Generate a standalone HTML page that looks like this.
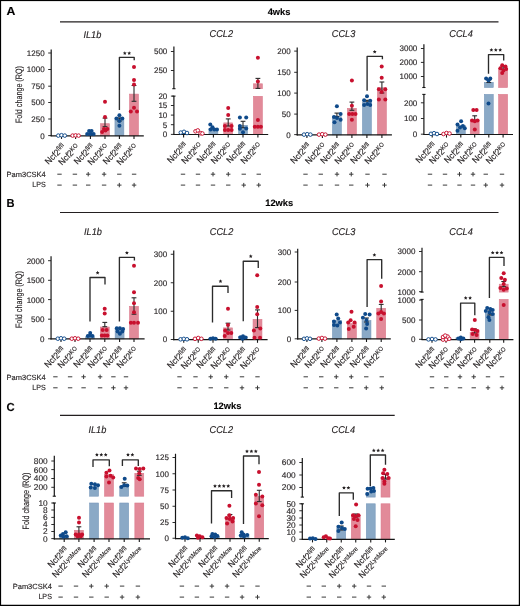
<!DOCTYPE html>
<html><head><meta charset="utf-8"><style>
html,body{margin:0;padding:0;background:#fff;}
svg{display:block;font-family:"Liberation Sans", sans-serif;will-change:transform;text-rendering:geometricPrecision;}
text{stroke:#231f20;stroke-width:0.14px;}
</style></head><body>
<svg width="520" height="606" viewBox="0 0 520 606">
<rect width="520" height="606" fill="#fff"/>
<rect x="0" y="0" width="520" height="1.1" fill="#000"/>
<rect x="0" y="0" width="1.1" height="606" fill="#000"/>
<rect x="518.8" y="0" width="1.2" height="606" fill="#000"/>
<rect x="0" y="604.75" width="520" height="1.25" fill="#000"/>
<text transform="translate(6.6,14.8) scale(1.06,1)" font-size="11.6" font-weight="bold" fill="#000">A</text>
<text transform="translate(6.6,207.4) scale(0.96,1)" font-size="11.6" font-weight="bold" fill="#000">B</text>
<text transform="translate(6.6,410.5) scale(0.97,1)" font-size="11.6" font-weight="bold" fill="#000">C</text>
<line x1="60" y1="21.8" x2="498.5" y2="21.8" stroke="#231f20" stroke-width="1.2"/>
<line x1="60" y1="212.5" x2="498.5" y2="212.5" stroke="#231f20" stroke-width="1.2"/>
<line x1="60" y1="415.3" x2="394.7" y2="415.3" stroke="#231f20" stroke-width="1.2"/>
<text x="279" y="15.2" font-size="9.3" font-weight="bold" text-anchor="middle" fill="#000">4wks</text>
<text x="279.2" y="205.9" font-size="9.3" font-weight="bold" text-anchor="middle" fill="#000">12wks</text>
<text x="227.4" y="409.2" font-size="9.3" font-weight="bold" text-anchor="middle" fill="#000">12wks</text>
<text transform="translate(21.8,94.6) rotate(-90)" font-size="9.3" text-anchor="middle" textLength="57" lengthAdjust="spacingAndGlyphs" fill="#231f20">Fold change (RQ)</text>
<text transform="translate(22.2,299.6) rotate(-90)" font-size="9.3" text-anchor="middle" textLength="57" lengthAdjust="spacingAndGlyphs" fill="#231f20">Fold change (RQ)</text>
<text transform="translate(28.9,501) rotate(-90)" font-size="9.3" text-anchor="middle" textLength="57" lengthAdjust="spacingAndGlyphs" fill="#231f20">Fold change (RQ)</text>
<text x="45.8" y="177.1" font-size="7.5" text-anchor="end" fill="#231f20">Pam3CSK4</text>
<text transform="translate(45.8,186.9) scale(0.94,1)" font-size="7.6" text-anchor="end" fill="#231f20">LPS</text>
<text x="45.8" y="380.0" font-size="7.5" text-anchor="end" fill="#231f20">Pam3CSK4</text>
<text transform="translate(45.8,390.0) scale(0.94,1)" font-size="7.6" text-anchor="end" fill="#231f20">LPS</text>
<text x="51.9" y="589.3" font-size="7.5" text-anchor="end" fill="#231f20">Pam3CSK4</text>
<text transform="translate(51.9,599.2) scale(0.94,1)" font-size="7.6" text-anchor="end" fill="#231f20">LPS</text>
<rect x="85.95" y="133.8" width="8.9" height="2.0000000000000115" fill="#8aa9c6" stroke="#7898bb" stroke-width="0.6"/>
<rect x="100.55" y="123.7" width="8.9" height="12.100000000000005" fill="#e28a99" stroke="#db7a8c" stroke-width="0.6"/>
<rect x="114.95" y="117.8" width="8.9" height="18.00000000000001" fill="#8aa9c6" stroke="#7898bb" stroke-width="0.6"/>
<rect x="129.55" y="94.1" width="8.9" height="41.70000000000002" fill="#e28a99" stroke="#db7a8c" stroke-width="0.6"/>
<line x1="51.2" y1="49.5" x2="51.2" y2="136.3" stroke="#161616" stroke-width="1.2"/>
<line x1="50.7" y1="135.8" x2="143.8" y2="135.8" stroke="#161616" stroke-width="1.2"/>
<line x1="61.5" y1="135.8" x2="61.5" y2="138.9" stroke="#161616" stroke-width="1.1"/>
<line x1="75.6" y1="135.8" x2="75.6" y2="138.9" stroke="#161616" stroke-width="1.1"/>
<line x1="90.4" y1="135.8" x2="90.4" y2="138.9" stroke="#161616" stroke-width="1.1"/>
<line x1="105" y1="135.8" x2="105" y2="138.9" stroke="#161616" stroke-width="1.1"/>
<line x1="119.4" y1="135.8" x2="119.4" y2="138.9" stroke="#161616" stroke-width="1.1"/>
<line x1="134" y1="135.8" x2="134" y2="138.9" stroke="#161616" stroke-width="1.1"/>
<line x1="48.2" y1="53" x2="51.2" y2="53" stroke="#161616" stroke-width="0.9"/>
<text transform="translate(44.6,55.9) scale(1.0,1)" font-size="8.0" text-anchor="end" fill="#231f20">1250</text>
<line x1="48.2" y1="69.5" x2="51.2" y2="69.5" stroke="#161616" stroke-width="0.9"/>
<text transform="translate(44.6,72.4) scale(1.0,1)" font-size="8.0" text-anchor="end" fill="#231f20">1000</text>
<line x1="48.2" y1="86.2" x2="51.2" y2="86.2" stroke="#161616" stroke-width="0.9"/>
<text transform="translate(44.6,89.10000000000001) scale(1.0,1)" font-size="8.0" text-anchor="end" fill="#231f20">750</text>
<line x1="48.2" y1="102.5" x2="51.2" y2="102.5" stroke="#161616" stroke-width="0.9"/>
<text transform="translate(44.6,105.4) scale(1.0,1)" font-size="8.0" text-anchor="end" fill="#231f20">500</text>
<line x1="48.2" y1="119" x2="51.2" y2="119" stroke="#161616" stroke-width="0.9"/>
<text transform="translate(44.6,121.9) scale(1.0,1)" font-size="8.0" text-anchor="end" fill="#231f20">250</text>
<line x1="48.2" y1="135.6" x2="51.2" y2="135.6" stroke="#161616" stroke-width="0.9"/>
<text transform="translate(44.6,138.5) scale(1.0,1)" font-size="8.0" text-anchor="end" fill="#231f20">0</text>
<line x1="105" y1="118.1" x2="105" y2="126.7" stroke="#2a2a2a" stroke-width="1.1"/>
<line x1="102.6" y1="118.1" x2="107.4" y2="118.1" stroke="#2a2a2a" stroke-width="1.1"/>
<line x1="102.6" y1="126.7" x2="107.4" y2="126.7" stroke="#2a2a2a" stroke-width="1.1"/>
<line x1="119.4" y1="118" x2="119.4" y2="121" stroke="#2a2a2a" stroke-width="1.1"/>
<line x1="117.0" y1="118" x2="121.80000000000001" y2="118" stroke="#2a2a2a" stroke-width="1.1"/>
<line x1="117.0" y1="121" x2="121.80000000000001" y2="121" stroke="#2a2a2a" stroke-width="1.1"/>
<line x1="134" y1="85.5" x2="134" y2="101.3" stroke="#2a2a2a" stroke-width="1.1"/>
<line x1="131.6" y1="85.5" x2="136.4" y2="85.5" stroke="#2a2a2a" stroke-width="1.1"/>
<line x1="131.6" y1="101.3" x2="136.4" y2="101.3" stroke="#2a2a2a" stroke-width="1.1"/>
<circle cx="58.3" cy="135.6" r="1.8" fill="#fff" stroke="#0f4a8a" stroke-width="0.95"/>
<circle cx="61.5" cy="135.2" r="1.8" fill="#fff" stroke="#0f4a8a" stroke-width="0.95"/>
<circle cx="64.8" cy="135.6" r="1.8" fill="#fff" stroke="#0f4a8a" stroke-width="0.95"/>
<circle cx="72.6" cy="135.6" r="1.8" fill="#fff" stroke="#c8102e" stroke-width="0.95"/>
<circle cx="75.6" cy="135.4" r="1.8" fill="#fff" stroke="#c8102e" stroke-width="0.95"/>
<circle cx="78.6" cy="135.6" r="1.8" fill="#fff" stroke="#c8102e" stroke-width="0.95"/>
<circle cx="89.1" cy="131.1" r="2.0" fill="#0f4a8a"/>
<circle cx="91.6" cy="131.1" r="2.0" fill="#0f4a8a"/>
<circle cx="87.2" cy="133.9" r="2.0" fill="#0f4a8a"/>
<circle cx="90.5" cy="133.9" r="2.0" fill="#0f4a8a"/>
<circle cx="93.6" cy="133.9" r="2.0" fill="#0f4a8a"/>
<circle cx="105" cy="101.7" r="2.0" fill="#c8102e"/>
<circle cx="105" cy="116.9" r="2.0" fill="#c8102e"/>
<circle cx="104" cy="129.1" r="2.0" fill="#c8102e"/>
<circle cx="107.4" cy="129.1" r="2.0" fill="#c8102e"/>
<circle cx="105.5" cy="130.6" r="2.0" fill="#c8102e"/>
<circle cx="102.1" cy="132" r="2.0" fill="#c8102e"/>
<circle cx="119.4" cy="115.2" r="2.0" fill="#0f4a8a"/>
<circle cx="116.5" cy="118.6" r="2.0" fill="#0f4a8a"/>
<circle cx="122.3" cy="118.6" r="2.0" fill="#0f4a8a"/>
<circle cx="119.4" cy="121" r="2.0" fill="#0f4a8a"/>
<circle cx="119.4" cy="125.8" r="2.0" fill="#0f4a8a"/>
<circle cx="134" cy="66.9" r="2.0" fill="#c8102e"/>
<circle cx="134" cy="80" r="2.0" fill="#c8102e"/>
<circle cx="134" cy="84.6" r="2.0" fill="#c8102e"/>
<circle cx="134" cy="107.7" r="2.0" fill="#c8102e"/>
<circle cx="130.8" cy="111.5" r="2.0" fill="#c8102e"/>
<circle cx="137" cy="111.5" r="2.0" fill="#c8102e"/>
<polyline points="119.4,110 119.4,57.3 134.2,57.3 134.2,60.2" fill="none" stroke="#2b2b2b" stroke-width="1.35" stroke-linejoin="round"/>
<polygon points="124.80,51.20 125.36,52.42 126.70,52.58 125.71,53.50 125.98,54.82 124.80,54.16 123.62,54.82 123.89,53.50 122.90,52.58 124.24,52.42" fill="#231f20"/>
<polygon points="129.20,51.20 129.76,52.42 131.10,52.58 130.11,53.50 130.38,54.82 129.20,54.16 128.02,54.82 128.29,53.50 127.30,52.58 128.64,52.42" fill="#231f20"/>
<text transform="translate(92.4,37.6) scale(0.93,1)" font-size="9.9" font-style="italic" text-anchor="middle" fill="#231f20">IL1b</text>
<text transform="translate(66.0,147.60000000000002) rotate(-45) scale(0.93,1)" font-size="9.0" text-anchor="end" fill="#231f20">Ncf2<tspan font-size="6.3" dy="-2.7">fl/fl</tspan></text>
<text transform="translate(80.1,147.60000000000002) rotate(-45) scale(0.93,1)" font-size="9.0" text-anchor="end" fill="#231f20">Ncf2<tspan font-size="6.3" dy="-2.7">KO</tspan></text>
<text transform="translate(94.9,147.60000000000002) rotate(-45) scale(0.93,1)" font-size="9.0" text-anchor="end" fill="#231f20">Ncf2<tspan font-size="6.3" dy="-2.7">fl/fl</tspan></text>
<text transform="translate(109.5,147.60000000000002) rotate(-45) scale(0.93,1)" font-size="9.0" text-anchor="end" fill="#231f20">Ncf2<tspan font-size="6.3" dy="-2.7">KO</tspan></text>
<text transform="translate(123.9,147.60000000000002) rotate(-45) scale(0.93,1)" font-size="9.0" text-anchor="end" fill="#231f20">Ncf2<tspan font-size="6.3" dy="-2.7">fl/fl</tspan></text>
<text transform="translate(138.5,147.60000000000002) rotate(-45) scale(0.93,1)" font-size="9.0" text-anchor="end" fill="#231f20">Ncf2<tspan font-size="6.3" dy="-2.7">KO</tspan></text>
<line x1="57.3" y1="174.2" x2="61.7" y2="174.2" stroke="#3a3a3a" stroke-width="1"/>
<line x1="57.3" y1="185.1" x2="61.7" y2="185.1" stroke="#3a3a3a" stroke-width="1"/>
<line x1="72.7" y1="174.2" x2="77.10000000000001" y2="174.2" stroke="#3a3a3a" stroke-width="1"/>
<line x1="72.7" y1="185.1" x2="77.10000000000001" y2="185.1" stroke="#3a3a3a" stroke-width="1"/>
<line x1="86.0" y1="174.2" x2="90.4" y2="174.2" stroke="#3a3a3a" stroke-width="1"/>
<line x1="88.2" y1="172.0" x2="88.2" y2="176.39999999999998" stroke="#3a3a3a" stroke-width="1"/>
<line x1="86.0" y1="185.1" x2="90.4" y2="185.1" stroke="#3a3a3a" stroke-width="1"/>
<line x1="101.89999999999999" y1="174.2" x2="106.3" y2="174.2" stroke="#3a3a3a" stroke-width="1"/>
<line x1="104.1" y1="172.0" x2="104.1" y2="176.39999999999998" stroke="#3a3a3a" stroke-width="1"/>
<line x1="101.89999999999999" y1="185.1" x2="106.3" y2="185.1" stroke="#3a3a3a" stroke-width="1"/>
<line x1="117.1" y1="174.2" x2="121.5" y2="174.2" stroke="#3a3a3a" stroke-width="1"/>
<line x1="117.1" y1="185.1" x2="121.5" y2="185.1" stroke="#3a3a3a" stroke-width="1"/>
<line x1="119.3" y1="182.9" x2="119.3" y2="187.29999999999998" stroke="#3a3a3a" stroke-width="1"/>
<line x1="131.9" y1="174.2" x2="136.29999999999998" y2="174.2" stroke="#3a3a3a" stroke-width="1"/>
<line x1="131.9" y1="185.1" x2="136.29999999999998" y2="185.1" stroke="#3a3a3a" stroke-width="1"/>
<line x1="134.1" y1="182.9" x2="134.1" y2="187.29999999999998" stroke="#3a3a3a" stroke-width="1"/>
<rect x="208.95000000000002" y="128.5" width="8.9" height="6.0000000000000115" fill="#8aa9c6" stroke="#7898bb" stroke-width="0.6"/>
<rect x="223.75" y="122.89999999999999" width="8.9" height="11.600000000000005" fill="#e28a99" stroke="#db7a8c" stroke-width="0.6"/>
<rect x="238.55" y="125.3" width="8.9" height="9.2" fill="#8aa9c6" stroke="#7898bb" stroke-width="0.6"/>
<rect x="253.45" y="83.8" width="8.9" height="4.900000000000003" fill="#e28a99" stroke="#db7a8c" stroke-width="0.6"/>
<rect x="253.45" y="96.3" width="8.9" height="38.2" fill="#e28a99" stroke="#db7a8c" stroke-width="0.6"/>
<line x1="173.9" y1="46.6" x2="173.9" y2="88.7" stroke="#161616" stroke-width="1.2"/>
<line x1="173.9" y1="96.1" x2="173.9" y2="135.0" stroke="#161616" stroke-width="1.2"/>
<line x1="172.3" y1="88.7" x2="175.5" y2="88.7" stroke="#161616" stroke-width="1.1"/>
<line x1="172.3" y1="96.1" x2="175.5" y2="96.1" stroke="#161616" stroke-width="1.1"/>
<line x1="173.4" y1="134.5" x2="268.2" y2="134.5" stroke="#161616" stroke-width="1.2"/>
<line x1="183.6" y1="134.5" x2="183.6" y2="137.6" stroke="#161616" stroke-width="1.1"/>
<line x1="198.7" y1="134.5" x2="198.7" y2="137.6" stroke="#161616" stroke-width="1.1"/>
<line x1="213.4" y1="134.5" x2="213.4" y2="137.6" stroke="#161616" stroke-width="1.1"/>
<line x1="228.2" y1="134.5" x2="228.2" y2="137.6" stroke="#161616" stroke-width="1.1"/>
<line x1="243" y1="134.5" x2="243" y2="137.6" stroke="#161616" stroke-width="1.1"/>
<line x1="257.9" y1="134.5" x2="257.9" y2="137.6" stroke="#161616" stroke-width="1.1"/>
<line x1="170.9" y1="51.5" x2="173.9" y2="51.5" stroke="#161616" stroke-width="0.9"/>
<text transform="translate(167.3,54.4) scale(1.0,1)" font-size="8.0" text-anchor="end" fill="#231f20">500</text>
<line x1="170.9" y1="70.5" x2="173.9" y2="70.5" stroke="#161616" stroke-width="0.9"/>
<text transform="translate(167.3,73.4) scale(1.0,1)" font-size="8.0" text-anchor="end" fill="#231f20">250</text>
<line x1="170.9" y1="96.1" x2="173.9" y2="96.1" stroke="#161616" stroke-width="0.9"/>
<text transform="translate(167.3,99.0) scale(1.0,1)" font-size="8.0" text-anchor="end" fill="#231f20">20</text>
<line x1="170.9" y1="105.5" x2="173.9" y2="105.5" stroke="#161616" stroke-width="0.9"/>
<text transform="translate(167.3,108.4) scale(1.0,1)" font-size="8.0" text-anchor="end" fill="#231f20">15</text>
<line x1="170.9" y1="115.1" x2="173.9" y2="115.1" stroke="#161616" stroke-width="0.9"/>
<text transform="translate(167.3,118.0) scale(1.0,1)" font-size="8.0" text-anchor="end" fill="#231f20">10</text>
<line x1="170.9" y1="124.7" x2="173.9" y2="124.7" stroke="#161616" stroke-width="0.9"/>
<text transform="translate(167.3,127.60000000000001) scale(1.0,1)" font-size="8.0" text-anchor="end" fill="#231f20">5</text>
<line x1="170.9" y1="134.4" x2="173.9" y2="134.4" stroke="#161616" stroke-width="0.9"/>
<text transform="translate(167.3,137.3) scale(1.0,1)" font-size="8.0" text-anchor="end" fill="#231f20">0</text>
<line x1="228.2" y1="118.9" x2="228.2" y2="126" stroke="#2a2a2a" stroke-width="1.1"/>
<line x1="225.79999999999998" y1="118.9" x2="230.6" y2="118.9" stroke="#2a2a2a" stroke-width="1.1"/>
<line x1="225.79999999999998" y1="126" x2="230.6" y2="126" stroke="#2a2a2a" stroke-width="1.1"/>
<line x1="243" y1="121.3" x2="243" y2="127.7" stroke="#2a2a2a" stroke-width="1.1"/>
<line x1="240.6" y1="121.3" x2="245.4" y2="121.3" stroke="#2a2a2a" stroke-width="1.1"/>
<line x1="240.6" y1="127.7" x2="245.4" y2="127.7" stroke="#2a2a2a" stroke-width="1.1"/>
<line x1="257.9" y1="78.4" x2="257.9" y2="88.4" stroke="#2a2a2a" stroke-width="1.1"/>
<line x1="255.49999999999997" y1="78.4" x2="260.29999999999995" y2="78.4" stroke="#2a2a2a" stroke-width="1.1"/>
<line x1="255.49999999999997" y1="88.4" x2="260.29999999999995" y2="88.4" stroke="#2a2a2a" stroke-width="1.1"/>
<circle cx="180.8" cy="132.6" r="1.8" fill="#fff" stroke="#0f4a8a" stroke-width="0.95"/>
<circle cx="184" cy="131.8" r="1.8" fill="#fff" stroke="#0f4a8a" stroke-width="0.95"/>
<circle cx="187" cy="133" r="1.8" fill="#fff" stroke="#0f4a8a" stroke-width="0.95"/>
<circle cx="195.5" cy="131.3" r="1.8" fill="#fff" stroke="#c8102e" stroke-width="0.95"/>
<circle cx="197.8" cy="130.4" r="1.8" fill="#fff" stroke="#c8102e" stroke-width="0.95"/>
<circle cx="200.6" cy="133.2" r="1.8" fill="#fff" stroke="#c8102e" stroke-width="0.95"/>
<circle cx="202.4" cy="133.5" r="1.8" fill="#fff" stroke="#c8102e" stroke-width="0.95"/>
<circle cx="210.3" cy="124.4" r="2.0" fill="#0f4a8a"/>
<circle cx="212.5" cy="127.3" r="2.0" fill="#0f4a8a"/>
<circle cx="214.3" cy="129.5" r="2.0" fill="#0f4a8a"/>
<circle cx="217" cy="129.5" r="2.0" fill="#0f4a8a"/>
<circle cx="210.6" cy="129.5" r="2.0" fill="#0f4a8a"/>
<circle cx="228.2" cy="108.1" r="2.0" fill="#c8102e"/>
<circle cx="228.2" cy="114.9" r="2.0" fill="#c8102e"/>
<circle cx="224.9" cy="125.9" r="2.0" fill="#c8102e"/>
<circle cx="231.6" cy="125.9" r="2.0" fill="#c8102e"/>
<circle cx="224.9" cy="130" r="2.0" fill="#c8102e"/>
<circle cx="228.2" cy="130" r="2.0" fill="#c8102e"/>
<circle cx="231.6" cy="130" r="2.0" fill="#c8102e"/>
<circle cx="239.9" cy="117.6" r="2.0" fill="#0f4a8a"/>
<circle cx="246.2" cy="117.6" r="2.0" fill="#0f4a8a"/>
<circle cx="239.9" cy="125.9" r="2.0" fill="#0f4a8a"/>
<circle cx="246.2" cy="128.6" r="2.0" fill="#0f4a8a"/>
<circle cx="243" cy="132.3" r="2.0" fill="#0f4a8a"/>
<circle cx="239.9" cy="128.8" r="2.0" fill="#0f4a8a"/>
<circle cx="257.9" cy="57.7" r="2.0" fill="#c8102e"/>
<circle cx="257.9" cy="81.6" r="2.0" fill="#c8102e"/>
<circle cx="257.9" cy="120" r="2.0" fill="#c8102e"/>
<circle cx="254.8" cy="126.8" r="2.0" fill="#c8102e"/>
<circle cx="257.9" cy="126.8" r="2.0" fill="#c8102e"/>
<circle cx="260.9" cy="126.8" r="2.0" fill="#c8102e"/>
<text transform="translate(221.3,37.3) scale(0.93,1)" font-size="9.9" font-style="italic" text-anchor="middle" fill="#231f20">CCL2</text>
<text transform="translate(188.1,146.3) rotate(-45) scale(0.93,1)" font-size="9.0" text-anchor="end" fill="#231f20">Ncf2<tspan font-size="6.3" dy="-2.7">fl/fl</tspan></text>
<text transform="translate(203.2,146.3) rotate(-45) scale(0.93,1)" font-size="9.0" text-anchor="end" fill="#231f20">Ncf2<tspan font-size="6.3" dy="-2.7">KO</tspan></text>
<text transform="translate(217.9,146.3) rotate(-45) scale(0.93,1)" font-size="9.0" text-anchor="end" fill="#231f20">Ncf2<tspan font-size="6.3" dy="-2.7">fl/fl</tspan></text>
<text transform="translate(232.7,146.3) rotate(-45) scale(0.93,1)" font-size="9.0" text-anchor="end" fill="#231f20">Ncf2<tspan font-size="6.3" dy="-2.7">KO</tspan></text>
<text transform="translate(247.5,146.3) rotate(-45) scale(0.93,1)" font-size="9.0" text-anchor="end" fill="#231f20">Ncf2<tspan font-size="6.3" dy="-2.7">fl/fl</tspan></text>
<text transform="translate(262.4,146.3) rotate(-45) scale(0.93,1)" font-size="9.0" text-anchor="end" fill="#231f20">Ncf2<tspan font-size="6.3" dy="-2.7">KO</tspan></text>
<line x1="180.8" y1="174.2" x2="185.2" y2="174.2" stroke="#3a3a3a" stroke-width="1"/>
<line x1="180.8" y1="185.1" x2="185.2" y2="185.1" stroke="#3a3a3a" stroke-width="1"/>
<line x1="195.8" y1="174.2" x2="200.2" y2="174.2" stroke="#3a3a3a" stroke-width="1"/>
<line x1="195.8" y1="185.1" x2="200.2" y2="185.1" stroke="#3a3a3a" stroke-width="1"/>
<line x1="210.8" y1="174.2" x2="215.2" y2="174.2" stroke="#3a3a3a" stroke-width="1"/>
<line x1="213" y1="172.0" x2="213" y2="176.39999999999998" stroke="#3a3a3a" stroke-width="1"/>
<line x1="210.8" y1="185.1" x2="215.2" y2="185.1" stroke="#3a3a3a" stroke-width="1"/>
<line x1="226.05" y1="174.2" x2="230.45" y2="174.2" stroke="#3a3a3a" stroke-width="1"/>
<line x1="228.25" y1="172.0" x2="228.25" y2="176.39999999999998" stroke="#3a3a3a" stroke-width="1"/>
<line x1="226.05" y1="185.1" x2="230.45" y2="185.1" stroke="#3a3a3a" stroke-width="1"/>
<line x1="241.55" y1="174.2" x2="245.95" y2="174.2" stroke="#3a3a3a" stroke-width="1"/>
<line x1="241.55" y1="185.1" x2="245.95" y2="185.1" stroke="#3a3a3a" stroke-width="1"/>
<line x1="243.75" y1="182.9" x2="243.75" y2="187.29999999999998" stroke="#3a3a3a" stroke-width="1"/>
<line x1="256.55" y1="174.2" x2="260.95" y2="174.2" stroke="#3a3a3a" stroke-width="1"/>
<line x1="256.55" y1="185.1" x2="260.95" y2="185.1" stroke="#3a3a3a" stroke-width="1"/>
<line x1="258.75" y1="182.9" x2="258.75" y2="187.29999999999998" stroke="#3a3a3a" stroke-width="1"/>
<rect x="332.45" y="116.7" width="8.9" height="18.2" fill="#8aa9c6" stroke="#7898bb" stroke-width="0.6"/>
<rect x="347.45" y="108.3" width="8.9" height="26.600000000000005" fill="#e28a99" stroke="#db7a8c" stroke-width="0.6"/>
<rect x="362.45" y="102.0" width="8.9" height="32.900000000000006" fill="#8aa9c6" stroke="#7898bb" stroke-width="0.6"/>
<rect x="377.45" y="87.8" width="8.9" height="47.10000000000001" fill="#e28a99" stroke="#db7a8c" stroke-width="0.6"/>
<line x1="297.2" y1="47.4" x2="297.2" y2="135.4" stroke="#161616" stroke-width="1.2"/>
<line x1="296.7" y1="134.9" x2="391.9" y2="134.9" stroke="#161616" stroke-width="1.2"/>
<line x1="306.9" y1="134.9" x2="306.9" y2="138.0" stroke="#161616" stroke-width="1.1"/>
<line x1="322.4" y1="134.9" x2="322.4" y2="138.0" stroke="#161616" stroke-width="1.1"/>
<line x1="336.9" y1="134.9" x2="336.9" y2="138.0" stroke="#161616" stroke-width="1.1"/>
<line x1="351.9" y1="134.9" x2="351.9" y2="138.0" stroke="#161616" stroke-width="1.1"/>
<line x1="366.9" y1="134.9" x2="366.9" y2="138.0" stroke="#161616" stroke-width="1.1"/>
<line x1="381.9" y1="134.9" x2="381.9" y2="138.0" stroke="#161616" stroke-width="1.1"/>
<line x1="294.2" y1="51.1" x2="297.2" y2="51.1" stroke="#161616" stroke-width="0.9"/>
<text transform="translate(290.59999999999997,54.0) scale(1.0,1)" font-size="8.0" text-anchor="end" fill="#231f20">200</text>
<line x1="294.2" y1="72.3" x2="297.2" y2="72.3" stroke="#161616" stroke-width="0.9"/>
<text transform="translate(290.59999999999997,75.2) scale(1.0,1)" font-size="8.0" text-anchor="end" fill="#231f20">150</text>
<line x1="294.2" y1="93.1" x2="297.2" y2="93.1" stroke="#161616" stroke-width="0.9"/>
<text transform="translate(290.59999999999997,96.0) scale(1.0,1)" font-size="8.0" text-anchor="end" fill="#231f20">100</text>
<line x1="294.2" y1="114.1" x2="297.2" y2="114.1" stroke="#161616" stroke-width="0.9"/>
<text transform="translate(290.59999999999997,117.0) scale(1.0,1)" font-size="8.0" text-anchor="end" fill="#231f20">50</text>
<line x1="294.2" y1="134.6" x2="297.2" y2="134.6" stroke="#161616" stroke-width="0.9"/>
<text transform="translate(290.59999999999997,137.5) scale(1.0,1)" font-size="8.0" text-anchor="end" fill="#231f20">0</text>
<line x1="336.9" y1="113.1" x2="336.9" y2="116.4" stroke="#2a2a2a" stroke-width="1.1"/>
<line x1="334.5" y1="113.1" x2="339.29999999999995" y2="113.1" stroke="#2a2a2a" stroke-width="1.1"/>
<line x1="334.5" y1="116.4" x2="339.29999999999995" y2="116.4" stroke="#2a2a2a" stroke-width="1.1"/>
<line x1="351.9" y1="102.1" x2="351.9" y2="110.3" stroke="#2a2a2a" stroke-width="1.1"/>
<line x1="349.5" y1="102.1" x2="354.29999999999995" y2="102.1" stroke="#2a2a2a" stroke-width="1.1"/>
<line x1="349.5" y1="110.3" x2="354.29999999999995" y2="110.3" stroke="#2a2a2a" stroke-width="1.1"/>
<line x1="366.9" y1="100.3" x2="366.9" y2="101.2" stroke="#2a2a2a" stroke-width="1.1"/>
<line x1="364.5" y1="100.3" x2="369.29999999999995" y2="100.3" stroke="#2a2a2a" stroke-width="1.1"/>
<line x1="364.5" y1="101.2" x2="369.29999999999995" y2="101.2" stroke="#2a2a2a" stroke-width="1.1"/>
<line x1="381.9" y1="82" x2="381.9" y2="93" stroke="#2a2a2a" stroke-width="1.1"/>
<line x1="379.5" y1="82" x2="384.29999999999995" y2="82" stroke="#2a2a2a" stroke-width="1.1"/>
<line x1="379.5" y1="93" x2="384.29999999999995" y2="93" stroke="#2a2a2a" stroke-width="1.1"/>
<circle cx="304" cy="134.6" r="1.8" fill="#fff" stroke="#0f4a8a" stroke-width="0.95"/>
<circle cx="307.2" cy="134.2" r="1.8" fill="#fff" stroke="#0f4a8a" stroke-width="0.95"/>
<circle cx="310.4" cy="134.6" r="1.8" fill="#fff" stroke="#0f4a8a" stroke-width="0.95"/>
<circle cx="319" cy="134.6" r="1.8" fill="#fff" stroke="#c8102e" stroke-width="0.95"/>
<circle cx="322.2" cy="134.2" r="1.8" fill="#fff" stroke="#c8102e" stroke-width="0.95"/>
<circle cx="325.4" cy="134.6" r="1.8" fill="#fff" stroke="#c8102e" stroke-width="0.95"/>
<circle cx="336.9" cy="106.3" r="2.0" fill="#0f4a8a"/>
<circle cx="340.6" cy="114" r="2.0" fill="#0f4a8a"/>
<circle cx="334" cy="117" r="2.0" fill="#0f4a8a"/>
<circle cx="337" cy="118" r="2.0" fill="#0f4a8a"/>
<circle cx="340.6" cy="119.8" r="2.0" fill="#0f4a8a"/>
<circle cx="334.5" cy="122.2" r="2.0" fill="#0f4a8a"/>
<circle cx="351.9" cy="80.6" r="2.0" fill="#c8102e"/>
<circle cx="351.9" cy="105.8" r="2.0" fill="#c8102e"/>
<circle cx="349.2" cy="114" r="2.0" fill="#c8102e"/>
<circle cx="352.4" cy="114" r="2.0" fill="#c8102e"/>
<circle cx="355.5" cy="114" r="2.0" fill="#c8102e"/>
<circle cx="351.9" cy="119.8" r="2.0" fill="#c8102e"/>
<circle cx="367" cy="96.3" r="2.0" fill="#0f4a8a"/>
<circle cx="364.1" cy="100.3" r="2.0" fill="#0f4a8a"/>
<circle cx="370.2" cy="100.8" r="2.0" fill="#0f4a8a"/>
<circle cx="364.1" cy="104.9" r="2.0" fill="#0f4a8a"/>
<circle cx="367.4" cy="104" r="2.0" fill="#0f4a8a"/>
<circle cx="370.2" cy="104.9" r="2.0" fill="#0f4a8a"/>
<circle cx="381.7" cy="66.5" r="2.0" fill="#c8102e"/>
<circle cx="381.7" cy="77.8" r="2.0" fill="#c8102e"/>
<circle cx="378.9" cy="89.3" r="2.0" fill="#c8102e"/>
<circle cx="385.3" cy="89.3" r="2.0" fill="#c8102e"/>
<circle cx="381.7" cy="92" r="2.0" fill="#c8102e"/>
<circle cx="378.9" cy="99.4" r="2.0" fill="#c8102e"/>
<circle cx="385.3" cy="99.4" r="2.0" fill="#c8102e"/>
<polyline points="367.1,90.8 367.1,56.4 382.4,56.4 382.4,59.2" fill="none" stroke="#2b2b2b" stroke-width="1.35" stroke-linejoin="round"/>
<polygon points="374.70,49.90 375.26,51.12 376.60,51.28 375.61,52.20 375.88,53.52 374.70,52.86 373.52,53.52 373.79,52.20 372.80,51.28 374.14,51.12" fill="#231f20"/>
<text transform="translate(343.5,37.3) scale(0.93,1)" font-size="9.9" font-style="italic" text-anchor="middle" fill="#231f20">CCL3</text>
<text transform="translate(311.4,146.70000000000002) rotate(-45) scale(0.93,1)" font-size="9.0" text-anchor="end" fill="#231f20">Ncf2<tspan font-size="6.3" dy="-2.7">fl/fl</tspan></text>
<text transform="translate(326.9,146.70000000000002) rotate(-45) scale(0.93,1)" font-size="9.0" text-anchor="end" fill="#231f20">Ncf2<tspan font-size="6.3" dy="-2.7">KO</tspan></text>
<text transform="translate(341.4,146.70000000000002) rotate(-45) scale(0.93,1)" font-size="9.0" text-anchor="end" fill="#231f20">Ncf2<tspan font-size="6.3" dy="-2.7">fl/fl</tspan></text>
<text transform="translate(356.4,146.70000000000002) rotate(-45) scale(0.93,1)" font-size="9.0" text-anchor="end" fill="#231f20">Ncf2<tspan font-size="6.3" dy="-2.7">KO</tspan></text>
<text transform="translate(371.4,146.70000000000002) rotate(-45) scale(0.93,1)" font-size="9.0" text-anchor="end" fill="#231f20">Ncf2<tspan font-size="6.3" dy="-2.7">fl/fl</tspan></text>
<text transform="translate(386.4,146.70000000000002) rotate(-45) scale(0.93,1)" font-size="9.0" text-anchor="end" fill="#231f20">Ncf2<tspan font-size="6.3" dy="-2.7">KO</tspan></text>
<line x1="303.3" y1="174.2" x2="307.7" y2="174.2" stroke="#3a3a3a" stroke-width="1"/>
<line x1="303.3" y1="185.1" x2="307.7" y2="185.1" stroke="#3a3a3a" stroke-width="1"/>
<line x1="318.55" y1="174.2" x2="322.95" y2="174.2" stroke="#3a3a3a" stroke-width="1"/>
<line x1="318.55" y1="185.1" x2="322.95" y2="185.1" stroke="#3a3a3a" stroke-width="1"/>
<line x1="334.8" y1="174.2" x2="339.2" y2="174.2" stroke="#3a3a3a" stroke-width="1"/>
<line x1="337" y1="172.0" x2="337" y2="176.39999999999998" stroke="#3a3a3a" stroke-width="1"/>
<line x1="334.8" y1="185.1" x2="339.2" y2="185.1" stroke="#3a3a3a" stroke-width="1"/>
<line x1="349.05" y1="174.2" x2="353.45" y2="174.2" stroke="#3a3a3a" stroke-width="1"/>
<line x1="351.25" y1="172.0" x2="351.25" y2="176.39999999999998" stroke="#3a3a3a" stroke-width="1"/>
<line x1="349.05" y1="185.1" x2="353.45" y2="185.1" stroke="#3a3a3a" stroke-width="1"/>
<line x1="365.3" y1="174.2" x2="369.7" y2="174.2" stroke="#3a3a3a" stroke-width="1"/>
<line x1="365.3" y1="185.1" x2="369.7" y2="185.1" stroke="#3a3a3a" stroke-width="1"/>
<line x1="367.5" y1="182.9" x2="367.5" y2="187.29999999999998" stroke="#3a3a3a" stroke-width="1"/>
<line x1="382.3" y1="174.2" x2="386.7" y2="174.2" stroke="#3a3a3a" stroke-width="1"/>
<line x1="382.3" y1="185.1" x2="386.7" y2="185.1" stroke="#3a3a3a" stroke-width="1"/>
<line x1="384.5" y1="182.9" x2="384.5" y2="187.29999999999998" stroke="#3a3a3a" stroke-width="1"/>
<rect x="456.35" y="125.3" width="8.9" height="9.2" fill="#8aa9c6" stroke="#7898bb" stroke-width="0.6"/>
<rect x="470.25" y="119.8" width="8.9" height="14.7" fill="#e28a99" stroke="#db7a8c" stroke-width="0.6"/>
<rect x="484.35" y="82.3" width="8.9" height="5.2" fill="#8aa9c6" stroke="#7898bb" stroke-width="0.6"/>
<rect x="484.35" y="94.4" width="8.9" height="40.099999999999994" fill="#8aa9c6" stroke="#7898bb" stroke-width="0.6"/>
<rect x="498.65000000000003" y="68.6" width="8.9" height="18.900000000000002" fill="#e28a99" stroke="#db7a8c" stroke-width="0.6"/>
<rect x="498.65000000000003" y="94.4" width="8.9" height="40.099999999999994" fill="#e28a99" stroke="#db7a8c" stroke-width="0.6"/>
<line x1="423.9" y1="44.2" x2="423.9" y2="87.5" stroke="#161616" stroke-width="1.2"/>
<line x1="423.9" y1="94.4" x2="423.9" y2="135.0" stroke="#161616" stroke-width="1.2"/>
<line x1="422.29999999999995" y1="87.5" x2="425.5" y2="87.5" stroke="#161616" stroke-width="1.1"/>
<line x1="422.29999999999995" y1="94.4" x2="425.5" y2="94.4" stroke="#161616" stroke-width="1.1"/>
<line x1="423.4" y1="134.5" x2="513" y2="134.5" stroke="#161616" stroke-width="1.2"/>
<line x1="432.2" y1="134.5" x2="432.2" y2="137.6" stroke="#161616" stroke-width="1.1"/>
<line x1="446.5" y1="134.5" x2="446.5" y2="137.6" stroke="#161616" stroke-width="1.1"/>
<line x1="460.8" y1="134.5" x2="460.8" y2="137.6" stroke="#161616" stroke-width="1.1"/>
<line x1="474.7" y1="134.5" x2="474.7" y2="137.6" stroke="#161616" stroke-width="1.1"/>
<line x1="488.8" y1="134.5" x2="488.8" y2="137.6" stroke="#161616" stroke-width="1.1"/>
<line x1="503.1" y1="134.5" x2="503.1" y2="137.6" stroke="#161616" stroke-width="1.1"/>
<line x1="420.9" y1="48.5" x2="423.9" y2="48.5" stroke="#161616" stroke-width="0.9"/>
<text transform="translate(417.29999999999995,51.4) scale(1.0,1)" font-size="8.0" text-anchor="end" fill="#231f20">3000</text>
<line x1="420.9" y1="62.4" x2="423.9" y2="62.4" stroke="#161616" stroke-width="0.9"/>
<text transform="translate(417.29999999999995,65.3) scale(1.0,1)" font-size="8.0" text-anchor="end" fill="#231f20">2000</text>
<line x1="420.9" y1="76.5" x2="423.9" y2="76.5" stroke="#161616" stroke-width="0.9"/>
<text transform="translate(417.29999999999995,79.4) scale(1.0,1)" font-size="8.0" text-anchor="end" fill="#231f20">1000</text>
<line x1="420.9" y1="102.8" x2="423.9" y2="102.8" stroke="#161616" stroke-width="0.9"/>
<text transform="translate(417.29999999999995,105.7) scale(1.0,1)" font-size="8.0" text-anchor="end" fill="#231f20">200</text>
<line x1="420.9" y1="118.5" x2="423.9" y2="118.5" stroke="#161616" stroke-width="0.9"/>
<text transform="translate(417.29999999999995,121.4) scale(1.0,1)" font-size="8.0" text-anchor="end" fill="#231f20">100</text>
<line x1="420.9" y1="134.2" x2="423.9" y2="134.2" stroke="#161616" stroke-width="0.9"/>
<text transform="translate(417.29999999999995,137.1) scale(1.0,1)" font-size="8.0" text-anchor="end" fill="#231f20">0</text>
<line x1="474.7" y1="115.8" x2="474.7" y2="120.4" stroke="#2a2a2a" stroke-width="1.1"/>
<line x1="472.3" y1="115.8" x2="477.09999999999997" y2="115.8" stroke="#2a2a2a" stroke-width="1.1"/>
<line x1="472.3" y1="120.4" x2="477.09999999999997" y2="120.4" stroke="#2a2a2a" stroke-width="1.1"/>
<line x1="488.8" y1="80" x2="488.8" y2="82.5" stroke="#2a2a2a" stroke-width="1.1"/>
<line x1="486.40000000000003" y1="80" x2="491.2" y2="80" stroke="#2a2a2a" stroke-width="1.1"/>
<line x1="486.40000000000003" y1="82.5" x2="491.2" y2="82.5" stroke="#2a2a2a" stroke-width="1.1"/>
<line x1="503.1" y1="66.8" x2="503.1" y2="69.5" stroke="#2a2a2a" stroke-width="1.1"/>
<line x1="500.70000000000005" y1="66.8" x2="505.5" y2="66.8" stroke="#2a2a2a" stroke-width="1.1"/>
<line x1="500.70000000000005" y1="69.5" x2="505.5" y2="69.5" stroke="#2a2a2a" stroke-width="1.1"/>
<circle cx="431" cy="133.8" r="1.8" fill="#fff" stroke="#0f4a8a" stroke-width="0.95"/>
<circle cx="434" cy="133.2" r="1.8" fill="#fff" stroke="#0f4a8a" stroke-width="0.95"/>
<circle cx="437" cy="134" r="1.8" fill="#fff" stroke="#0f4a8a" stroke-width="0.95"/>
<circle cx="443.5" cy="134" r="1.8" fill="#fff" stroke="#c8102e" stroke-width="0.95"/>
<circle cx="446.5" cy="133" r="1.8" fill="#fff" stroke="#c8102e" stroke-width="0.95"/>
<circle cx="449.5" cy="133.5" r="1.8" fill="#fff" stroke="#c8102e" stroke-width="0.95"/>
<circle cx="461.1" cy="121.3" r="2.0" fill="#0f4a8a"/>
<circle cx="457.5" cy="124.4" r="2.0" fill="#0f4a8a"/>
<circle cx="462.9" cy="125.9" r="2.0" fill="#0f4a8a"/>
<circle cx="464.8" cy="128.2" r="2.0" fill="#0f4a8a"/>
<circle cx="457.5" cy="130.8" r="2.0" fill="#0f4a8a"/>
<circle cx="460" cy="127.5" r="2.0" fill="#0f4a8a"/>
<circle cx="473.3" cy="110" r="2.0" fill="#c8102e"/>
<circle cx="476.6" cy="110" r="2.0" fill="#c8102e"/>
<circle cx="472.1" cy="120.4" r="2.0" fill="#c8102e"/>
<circle cx="474.8" cy="121.3" r="2.0" fill="#c8102e"/>
<circle cx="477.5" cy="120.4" r="2.0" fill="#c8102e"/>
<circle cx="474.8" cy="129.5" r="2.0" fill="#c8102e"/>
<circle cx="486.1" cy="78.4" r="2.0" fill="#0f4a8a"/>
<circle cx="490.3" cy="78.4" r="2.0" fill="#0f4a8a"/>
<circle cx="488.5" cy="80.6" r="2.0" fill="#0f4a8a"/>
<circle cx="488.5" cy="103.6" r="2.0" fill="#0f4a8a"/>
<circle cx="502.2" cy="65.2" r="2.0" fill="#c8102e"/>
<circle cx="505.5" cy="66.5" r="2.0" fill="#c8102e"/>
<circle cx="500.4" cy="68.3" r="2.0" fill="#c8102e"/>
<circle cx="506.2" cy="68.9" r="2.0" fill="#c8102e"/>
<circle cx="502.2" cy="72.9" r="2.0" fill="#c8102e"/>
<circle cx="503.5" cy="70.5" r="2.0" fill="#c8102e"/>
<polyline points="488.5,73.8 488.5,54.6 503.7,54.6 503.7,60.5" fill="none" stroke="#2b2b2b" stroke-width="1.35" stroke-linejoin="round"/>
<polygon points="491.40,48.00 491.96,49.22 493.30,49.38 492.31,50.30 492.58,51.62 491.40,50.96 490.22,51.62 490.49,50.30 489.50,49.38 490.84,49.22" fill="#231f20"/>
<polygon points="495.80,48.00 496.36,49.22 497.70,49.38 496.71,50.30 496.98,51.62 495.80,50.96 494.62,51.62 494.89,50.30 493.90,49.38 495.24,49.22" fill="#231f20"/>
<polygon points="500.20,48.00 500.76,49.22 502.10,49.38 501.11,50.30 501.38,51.62 500.20,50.96 499.02,51.62 499.29,50.30 498.30,49.38 499.64,49.22" fill="#231f20"/>
<text transform="translate(461,37.3) scale(0.93,1)" font-size="9.9" font-style="italic" text-anchor="middle" fill="#231f20">CCL4</text>
<text transform="translate(436.7,146.3) rotate(-45) scale(0.93,1)" font-size="9.0" text-anchor="end" fill="#231f20">Ncf2<tspan font-size="6.3" dy="-2.7">fl/fl</tspan></text>
<text transform="translate(451.0,146.3) rotate(-45) scale(0.93,1)" font-size="9.0" text-anchor="end" fill="#231f20">Ncf2<tspan font-size="6.3" dy="-2.7">KO</tspan></text>
<text transform="translate(465.3,146.3) rotate(-45) scale(0.93,1)" font-size="9.0" text-anchor="end" fill="#231f20">Ncf2<tspan font-size="6.3" dy="-2.7">fl/fl</tspan></text>
<text transform="translate(479.2,146.3) rotate(-45) scale(0.93,1)" font-size="9.0" text-anchor="end" fill="#231f20">Ncf2<tspan font-size="6.3" dy="-2.7">KO</tspan></text>
<text transform="translate(493.3,146.3) rotate(-45) scale(0.93,1)" font-size="9.0" text-anchor="end" fill="#231f20">Ncf2<tspan font-size="6.3" dy="-2.7">fl/fl</tspan></text>
<text transform="translate(507.6,146.3) rotate(-45) scale(0.93,1)" font-size="9.0" text-anchor="end" fill="#231f20">Ncf2<tspan font-size="6.3" dy="-2.7">KO</tspan></text>
<line x1="427.8" y1="174.2" x2="432.2" y2="174.2" stroke="#3a3a3a" stroke-width="1"/>
<line x1="427.8" y1="185.1" x2="432.2" y2="185.1" stroke="#3a3a3a" stroke-width="1"/>
<line x1="442.8" y1="174.2" x2="447.2" y2="174.2" stroke="#3a3a3a" stroke-width="1"/>
<line x1="442.8" y1="185.1" x2="447.2" y2="185.1" stroke="#3a3a3a" stroke-width="1"/>
<line x1="457.3" y1="174.2" x2="461.7" y2="174.2" stroke="#3a3a3a" stroke-width="1"/>
<line x1="459.5" y1="172.0" x2="459.5" y2="176.39999999999998" stroke="#3a3a3a" stroke-width="1"/>
<line x1="457.3" y1="185.1" x2="461.7" y2="185.1" stroke="#3a3a3a" stroke-width="1"/>
<line x1="470.8" y1="174.2" x2="475.2" y2="174.2" stroke="#3a3a3a" stroke-width="1"/>
<line x1="473" y1="172.0" x2="473" y2="176.39999999999998" stroke="#3a3a3a" stroke-width="1"/>
<line x1="470.8" y1="185.1" x2="475.2" y2="185.1" stroke="#3a3a3a" stroke-width="1"/>
<line x1="483.55" y1="174.2" x2="487.95" y2="174.2" stroke="#3a3a3a" stroke-width="1"/>
<line x1="483.55" y1="185.1" x2="487.95" y2="185.1" stroke="#3a3a3a" stroke-width="1"/>
<line x1="485.75" y1="182.9" x2="485.75" y2="187.29999999999998" stroke="#3a3a3a" stroke-width="1"/>
<line x1="499.8" y1="174.2" x2="504.2" y2="174.2" stroke="#3a3a3a" stroke-width="1"/>
<line x1="499.8" y1="185.1" x2="504.2" y2="185.1" stroke="#3a3a3a" stroke-width="1"/>
<line x1="502" y1="182.9" x2="502" y2="187.29999999999998" stroke="#3a3a3a" stroke-width="1"/>
<rect x="85.55" y="336.8" width="8.9" height="2.0999999999999774" fill="#8aa9c6" stroke="#7898bb" stroke-width="0.6"/>
<rect x="100.35" y="327.0" width="8.9" height="11.899999999999988" fill="#e28a99" stroke="#db7a8c" stroke-width="0.6"/>
<rect x="115.14999999999999" y="329.1" width="8.9" height="9.799999999999965" fill="#8aa9c6" stroke="#7898bb" stroke-width="0.6"/>
<rect x="129.55" y="306.40000000000003" width="8.9" height="32.49999999999996" fill="#e28a99" stroke="#db7a8c" stroke-width="0.6"/>
<line x1="51.05" y1="256.3" x2="51.05" y2="339.4" stroke="#161616" stroke-width="1.2"/>
<line x1="50.55" y1="338.9" x2="144.6" y2="338.9" stroke="#161616" stroke-width="1.2"/>
<line x1="61" y1="338.9" x2="61" y2="342.0" stroke="#161616" stroke-width="1.1"/>
<line x1="75" y1="338.9" x2="75" y2="342.0" stroke="#161616" stroke-width="1.1"/>
<line x1="90" y1="338.9" x2="90" y2="342.0" stroke="#161616" stroke-width="1.1"/>
<line x1="104.8" y1="338.9" x2="104.8" y2="342.0" stroke="#161616" stroke-width="1.1"/>
<line x1="119.6" y1="338.9" x2="119.6" y2="342.0" stroke="#161616" stroke-width="1.1"/>
<line x1="134" y1="338.9" x2="134" y2="342.0" stroke="#161616" stroke-width="1.1"/>
<line x1="48.05" y1="260.7" x2="51.05" y2="260.7" stroke="#161616" stroke-width="0.9"/>
<text transform="translate(44.449999999999996,263.59999999999997) scale(1.0,1)" font-size="8.0" text-anchor="end" fill="#231f20">2000</text>
<line x1="48.05" y1="280.3" x2="51.05" y2="280.3" stroke="#161616" stroke-width="0.9"/>
<text transform="translate(44.449999999999996,283.2) scale(1.0,1)" font-size="8.0" text-anchor="end" fill="#231f20">1500</text>
<line x1="48.05" y1="299.6" x2="51.05" y2="299.6" stroke="#161616" stroke-width="0.9"/>
<text transform="translate(44.449999999999996,302.5) scale(1.0,1)" font-size="8.0" text-anchor="end" fill="#231f20">1000</text>
<line x1="48.05" y1="319.2" x2="51.05" y2="319.2" stroke="#161616" stroke-width="0.9"/>
<text transform="translate(44.449999999999996,322.09999999999997) scale(1.0,1)" font-size="8.0" text-anchor="end" fill="#231f20">500</text>
<line x1="48.05" y1="338.8" x2="51.05" y2="338.8" stroke="#161616" stroke-width="0.9"/>
<text transform="translate(44.449999999999996,341.7) scale(1.0,1)" font-size="8.0" text-anchor="end" fill="#231f20">0</text>
<line x1="104.8" y1="322.4" x2="104.8" y2="326.7" stroke="#2a2a2a" stroke-width="1.1"/>
<line x1="102.39999999999999" y1="322.4" x2="107.2" y2="322.4" stroke="#2a2a2a" stroke-width="1.1"/>
<line x1="102.39999999999999" y1="326.7" x2="107.2" y2="326.7" stroke="#2a2a2a" stroke-width="1.1"/>
<line x1="134" y1="297.8" x2="134" y2="314.2" stroke="#2a2a2a" stroke-width="1.1"/>
<line x1="131.6" y1="297.8" x2="136.4" y2="297.8" stroke="#2a2a2a" stroke-width="1.1"/>
<line x1="131.6" y1="314.2" x2="136.4" y2="314.2" stroke="#2a2a2a" stroke-width="1.1"/>
<circle cx="57.8" cy="338.7" r="1.8" fill="#fff" stroke="#0f4a8a" stroke-width="0.95"/>
<circle cx="61" cy="338.3" r="1.8" fill="#fff" stroke="#0f4a8a" stroke-width="0.95"/>
<circle cx="64.2" cy="338.7" r="1.8" fill="#fff" stroke="#0f4a8a" stroke-width="0.95"/>
<circle cx="71.8" cy="338.7" r="1.8" fill="#fff" stroke="#c8102e" stroke-width="0.95"/>
<circle cx="75" cy="338.3" r="1.8" fill="#fff" stroke="#c8102e" stroke-width="0.95"/>
<circle cx="78.2" cy="338.7" r="1.8" fill="#fff" stroke="#c8102e" stroke-width="0.95"/>
<circle cx="90.2" cy="333" r="2.0" fill="#0f4a8a"/>
<circle cx="87.8" cy="336.1" r="2.0" fill="#0f4a8a"/>
<circle cx="92.5" cy="336.1" r="2.0" fill="#0f4a8a"/>
<circle cx="90" cy="335.5" r="2.0" fill="#0f4a8a"/>
<circle cx="104.7" cy="308.7" r="2.0" fill="#c8102e"/>
<circle cx="104.7" cy="313.4" r="2.0" fill="#c8102e"/>
<circle cx="102.7" cy="329.9" r="2.0" fill="#c8102e"/>
<circle cx="106.6" cy="329.9" r="2.0" fill="#c8102e"/>
<circle cx="101.9" cy="335.4" r="2.0" fill="#c8102e"/>
<circle cx="104.7" cy="335.4" r="2.0" fill="#c8102e"/>
<circle cx="107.4" cy="335.4" r="2.0" fill="#c8102e"/>
<circle cx="116.8" cy="328.3" r="2.0" fill="#0f4a8a"/>
<circle cx="119.9" cy="328.3" r="2.0" fill="#0f4a8a"/>
<circle cx="123.1" cy="329.1" r="2.0" fill="#0f4a8a"/>
<circle cx="117.6" cy="331.4" r="2.0" fill="#0f4a8a"/>
<circle cx="122.3" cy="331.4" r="2.0" fill="#0f4a8a"/>
<circle cx="119.9" cy="333.8" r="2.0" fill="#0f4a8a"/>
<circle cx="134" cy="265.7" r="2.0" fill="#c8102e"/>
<circle cx="134" cy="292.3" r="2.0" fill="#c8102e"/>
<circle cx="134" cy="303.2" r="2.0" fill="#c8102e"/>
<circle cx="134" cy="312.3" r="2.0" fill="#c8102e"/>
<circle cx="130.9" cy="322.8" r="2.0" fill="#c8102e"/>
<circle cx="134" cy="322.8" r="2.0" fill="#c8102e"/>
<circle cx="138" cy="322.8" r="2.0" fill="#c8102e"/>
<polyline points="90,321.5 90,277.5 105,277.5 105,284.6" fill="none" stroke="#2b2b2b" stroke-width="1.35" stroke-linejoin="round"/>
<polygon points="97.60,270.80 98.16,272.02 99.50,272.18 98.51,273.10 98.78,274.42 97.60,273.76 96.42,274.42 96.69,273.10 95.70,272.18 97.04,272.02" fill="#231f20"/>
<polyline points="119.4,321.5 119.4,257.3 134.4,257.3 134.4,260.6" fill="none" stroke="#2b2b2b" stroke-width="1.35" stroke-linejoin="round"/>
<polygon points="126.90,250.90 127.46,252.12 128.80,252.28 127.81,253.20 128.08,254.52 126.90,253.86 125.72,254.52 125.99,253.20 125.00,252.28 126.34,252.12" fill="#231f20"/>
<text transform="translate(93,234.6) scale(0.93,1)" font-size="9.9" font-style="italic" text-anchor="middle" fill="#231f20">IL1b</text>
<text transform="translate(65.5,350.7) rotate(-45) scale(0.93,1)" font-size="9.0" text-anchor="end" fill="#231f20">Ncf2<tspan font-size="6.3" dy="-2.7">fl/fl</tspan></text>
<text transform="translate(79.5,350.7) rotate(-45) scale(0.93,1)" font-size="9.0" text-anchor="end" fill="#231f20">Ncf2<tspan font-size="6.3" dy="-2.7">KO</tspan></text>
<text transform="translate(94.5,350.7) rotate(-45) scale(0.93,1)" font-size="9.0" text-anchor="end" fill="#231f20">Ncf2<tspan font-size="6.3" dy="-2.7">fl/fl</tspan></text>
<text transform="translate(109.3,350.7) rotate(-45) scale(0.93,1)" font-size="9.0" text-anchor="end" fill="#231f20">Ncf2<tspan font-size="6.3" dy="-2.7">KO</tspan></text>
<text transform="translate(124.1,350.7) rotate(-45) scale(0.93,1)" font-size="9.0" text-anchor="end" fill="#231f20">Ncf2<tspan font-size="6.3" dy="-2.7">fl/fl</tspan></text>
<text transform="translate(138.5,350.7) rotate(-45) scale(0.93,1)" font-size="9.0" text-anchor="end" fill="#231f20">Ncf2<tspan font-size="6.3" dy="-2.7">KO</tspan></text>
<line x1="53.199999999999996" y1="376.8" x2="57.6" y2="376.8" stroke="#3a3a3a" stroke-width="1"/>
<line x1="53.199999999999996" y1="387.8" x2="57.6" y2="387.8" stroke="#3a3a3a" stroke-width="1"/>
<line x1="67.89999999999999" y1="376.8" x2="72.3" y2="376.8" stroke="#3a3a3a" stroke-width="1"/>
<line x1="67.89999999999999" y1="387.8" x2="72.3" y2="387.8" stroke="#3a3a3a" stroke-width="1"/>
<line x1="81.39999999999999" y1="376.8" x2="85.8" y2="376.8" stroke="#3a3a3a" stroke-width="1"/>
<line x1="83.6" y1="374.6" x2="83.6" y2="379.0" stroke="#3a3a3a" stroke-width="1"/>
<line x1="81.39999999999999" y1="387.8" x2="85.8" y2="387.8" stroke="#3a3a3a" stroke-width="1"/>
<line x1="97.89999999999999" y1="376.8" x2="102.3" y2="376.8" stroke="#3a3a3a" stroke-width="1"/>
<line x1="100.1" y1="374.6" x2="100.1" y2="379.0" stroke="#3a3a3a" stroke-width="1"/>
<line x1="97.89999999999999" y1="387.8" x2="102.3" y2="387.8" stroke="#3a3a3a" stroke-width="1"/>
<line x1="111.2" y1="376.8" x2="115.60000000000001" y2="376.8" stroke="#3a3a3a" stroke-width="1"/>
<line x1="111.2" y1="387.8" x2="115.60000000000001" y2="387.8" stroke="#3a3a3a" stroke-width="1"/>
<line x1="113.4" y1="385.6" x2="113.4" y2="390.0" stroke="#3a3a3a" stroke-width="1"/>
<line x1="123.8" y1="376.8" x2="128.2" y2="376.8" stroke="#3a3a3a" stroke-width="1"/>
<line x1="123.8" y1="387.8" x2="128.2" y2="387.8" stroke="#3a3a3a" stroke-width="1"/>
<line x1="126" y1="385.6" x2="126" y2="390.0" stroke="#3a3a3a" stroke-width="1"/>
<rect x="208.55" y="338.3" width="8.9" height="1.3999999999999886" fill="#8aa9c6" stroke="#7898bb" stroke-width="0.6"/>
<rect x="223.55" y="327.90000000000003" width="8.9" height="11.799999999999965" fill="#e28a99" stroke="#db7a8c" stroke-width="0.6"/>
<rect x="238.3" y="336.3" width="8.9" height="3.399999999999989" fill="#8aa9c6" stroke="#7898bb" stroke-width="0.6"/>
<rect x="253.05" y="319.3" width="8.9" height="20.399999999999988" fill="#e28a99" stroke="#db7a8c" stroke-width="0.6"/>
<line x1="173.75" y1="250.5" x2="173.75" y2="340.2" stroke="#161616" stroke-width="1.2"/>
<line x1="173.25" y1="339.7" x2="267.6" y2="339.7" stroke="#161616" stroke-width="1.2"/>
<line x1="183.75" y1="339.7" x2="183.75" y2="342.8" stroke="#161616" stroke-width="1.1"/>
<line x1="198.25" y1="339.7" x2="198.25" y2="342.8" stroke="#161616" stroke-width="1.1"/>
<line x1="213" y1="339.7" x2="213" y2="342.8" stroke="#161616" stroke-width="1.1"/>
<line x1="228" y1="339.7" x2="228" y2="342.8" stroke="#161616" stroke-width="1.1"/>
<line x1="242.75" y1="339.7" x2="242.75" y2="342.8" stroke="#161616" stroke-width="1.1"/>
<line x1="257.5" y1="339.7" x2="257.5" y2="342.8" stroke="#161616" stroke-width="1.1"/>
<line x1="170.75" y1="254.25" x2="173.75" y2="254.25" stroke="#161616" stroke-width="0.9"/>
<text transform="translate(167.15,257.15) scale(1.0,1)" font-size="8.0" text-anchor="end" fill="#231f20">300</text>
<line x1="170.75" y1="282.75" x2="173.75" y2="282.75" stroke="#161616" stroke-width="0.9"/>
<text transform="translate(167.15,285.65) scale(1.0,1)" font-size="8.0" text-anchor="end" fill="#231f20">200</text>
<line x1="170.75" y1="311.25" x2="173.75" y2="311.25" stroke="#161616" stroke-width="0.9"/>
<text transform="translate(167.15,314.15) scale(1.0,1)" font-size="8.0" text-anchor="end" fill="#231f20">100</text>
<line x1="170.75" y1="339.5" x2="173.75" y2="339.5" stroke="#161616" stroke-width="0.9"/>
<text transform="translate(167.15,342.4) scale(1.0,1)" font-size="8.0" text-anchor="end" fill="#231f20">0</text>
<line x1="228" y1="323.2" x2="228" y2="330" stroke="#2a2a2a" stroke-width="1.1"/>
<line x1="225.6" y1="323.2" x2="230.4" y2="323.2" stroke="#2a2a2a" stroke-width="1.1"/>
<line x1="225.6" y1="330" x2="230.4" y2="330" stroke="#2a2a2a" stroke-width="1.1"/>
<line x1="257.5" y1="309.9" x2="257.5" y2="327.6" stroke="#2a2a2a" stroke-width="1.1"/>
<line x1="255.1" y1="309.9" x2="259.9" y2="309.9" stroke="#2a2a2a" stroke-width="1.1"/>
<line x1="255.1" y1="327.6" x2="259.9" y2="327.6" stroke="#2a2a2a" stroke-width="1.1"/>
<circle cx="180.6" cy="339.3" r="1.8" fill="#fff" stroke="#0f4a8a" stroke-width="0.95"/>
<circle cx="183.8" cy="338.9" r="1.8" fill="#fff" stroke="#0f4a8a" stroke-width="0.95"/>
<circle cx="187" cy="339.3" r="1.8" fill="#fff" stroke="#0f4a8a" stroke-width="0.95"/>
<circle cx="195" cy="338.8" r="1.8" fill="#fff" stroke="#c8102e" stroke-width="0.95"/>
<circle cx="198.2" cy="338" r="1.8" fill="#fff" stroke="#c8102e" stroke-width="0.95"/>
<circle cx="201.4" cy="338.8" r="1.8" fill="#fff" stroke="#c8102e" stroke-width="0.95"/>
<circle cx="210.5" cy="338.8" r="2.0" fill="#0f4a8a"/>
<circle cx="213" cy="338.2" r="2.0" fill="#0f4a8a"/>
<circle cx="215.6" cy="338.8" r="2.0" fill="#0f4a8a"/>
<circle cx="228" cy="308.8" r="2.0" fill="#c8102e"/>
<circle cx="228" cy="324.9" r="2.0" fill="#c8102e"/>
<circle cx="225.2" cy="330.4" r="2.0" fill="#c8102e"/>
<circle cx="224.7" cy="335.9" r="2.0" fill="#c8102e"/>
<circle cx="228" cy="333.1" r="2.0" fill="#c8102e"/>
<circle cx="231.3" cy="333.1" r="2.0" fill="#c8102e"/>
<circle cx="240.5" cy="337.2" r="2.0" fill="#0f4a8a"/>
<circle cx="243" cy="336.2" r="2.0" fill="#0f4a8a"/>
<circle cx="245.5" cy="337.5" r="2.0" fill="#0f4a8a"/>
<circle cx="242.5" cy="338.7" r="2.0" fill="#0f4a8a"/>
<circle cx="257.2" cy="275.2" r="2.0" fill="#c8102e"/>
<circle cx="257.2" cy="307" r="2.0" fill="#c8102e"/>
<circle cx="257.2" cy="314.3" r="2.0" fill="#c8102e"/>
<circle cx="253.9" cy="330.4" r="2.0" fill="#c8102e"/>
<circle cx="260.3" cy="328.6" r="2.0" fill="#c8102e"/>
<circle cx="254.5" cy="337.7" r="2.0" fill="#c8102e"/>
<circle cx="260" cy="337.7" r="2.0" fill="#c8102e"/>
<polyline points="212.5,322.5 212.5,286.25 228,286.25 228,293" fill="none" stroke="#2b2b2b" stroke-width="1.35" stroke-linejoin="round"/>
<polygon points="220.50,279.30 221.06,280.52 222.40,280.68 221.41,281.60 221.68,282.92 220.50,282.26 219.32,282.92 219.59,281.60 218.60,280.68 219.94,280.52" fill="#231f20"/>
<polyline points="243.25,321.25 243.25,261.25 258.25,261.25 258.25,268" fill="none" stroke="#2b2b2b" stroke-width="1.35" stroke-linejoin="round"/>
<polygon points="250.75,254.30 251.31,255.52 252.65,255.68 251.66,256.60 251.93,257.92 250.75,257.26 249.57,257.92 249.84,256.60 248.85,255.68 250.19,255.52" fill="#231f20"/>
<text transform="translate(221.5,234.6) scale(0.93,1)" font-size="9.9" font-style="italic" text-anchor="middle" fill="#231f20">CCL2</text>
<text transform="translate(188.25,351.5) rotate(-45) scale(0.93,1)" font-size="9.0" text-anchor="end" fill="#231f20">Ncf2<tspan font-size="6.3" dy="-2.7">fl/fl</tspan></text>
<text transform="translate(202.75,351.5) rotate(-45) scale(0.93,1)" font-size="9.0" text-anchor="end" fill="#231f20">Ncf2<tspan font-size="6.3" dy="-2.7">KO</tspan></text>
<text transform="translate(217.5,351.5) rotate(-45) scale(0.93,1)" font-size="9.0" text-anchor="end" fill="#231f20">Ncf2<tspan font-size="6.3" dy="-2.7">fl/fl</tspan></text>
<text transform="translate(232.5,351.5) rotate(-45) scale(0.93,1)" font-size="9.0" text-anchor="end" fill="#231f20">Ncf2<tspan font-size="6.3" dy="-2.7">KO</tspan></text>
<text transform="translate(247.25,351.5) rotate(-45) scale(0.93,1)" font-size="9.0" text-anchor="end" fill="#231f20">Ncf2<tspan font-size="6.3" dy="-2.7">fl/fl</tspan></text>
<text transform="translate(262.0,351.5) rotate(-45) scale(0.93,1)" font-size="9.0" text-anchor="end" fill="#231f20">Ncf2<tspan font-size="6.3" dy="-2.7">KO</tspan></text>
<line x1="177.3" y1="376.8" x2="181.7" y2="376.8" stroke="#3a3a3a" stroke-width="1"/>
<line x1="177.3" y1="387.8" x2="181.7" y2="387.8" stroke="#3a3a3a" stroke-width="1"/>
<line x1="193.3" y1="376.8" x2="197.7" y2="376.8" stroke="#3a3a3a" stroke-width="1"/>
<line x1="193.3" y1="387.8" x2="197.7" y2="387.8" stroke="#3a3a3a" stroke-width="1"/>
<line x1="208.55" y1="376.8" x2="212.95" y2="376.8" stroke="#3a3a3a" stroke-width="1"/>
<line x1="210.75" y1="374.6" x2="210.75" y2="379.0" stroke="#3a3a3a" stroke-width="1"/>
<line x1="208.55" y1="387.8" x2="212.95" y2="387.8" stroke="#3a3a3a" stroke-width="1"/>
<line x1="224.05" y1="376.8" x2="228.45" y2="376.8" stroke="#3a3a3a" stroke-width="1"/>
<line x1="226.25" y1="374.6" x2="226.25" y2="379.0" stroke="#3a3a3a" stroke-width="1"/>
<line x1="224.05" y1="387.8" x2="228.45" y2="387.8" stroke="#3a3a3a" stroke-width="1"/>
<line x1="239.8" y1="376.8" x2="244.2" y2="376.8" stroke="#3a3a3a" stroke-width="1"/>
<line x1="239.8" y1="387.8" x2="244.2" y2="387.8" stroke="#3a3a3a" stroke-width="1"/>
<line x1="242" y1="385.6" x2="242" y2="390.0" stroke="#3a3a3a" stroke-width="1"/>
<line x1="255.3" y1="376.8" x2="259.7" y2="376.8" stroke="#3a3a3a" stroke-width="1"/>
<line x1="255.3" y1="387.8" x2="259.7" y2="387.8" stroke="#3a3a3a" stroke-width="1"/>
<line x1="257.5" y1="385.6" x2="257.5" y2="390.0" stroke="#3a3a3a" stroke-width="1"/>
<rect x="332.45" y="320.6" width="8.9" height="18.299999999999965" fill="#8aa9c6" stroke="#7898bb" stroke-width="0.6"/>
<rect x="347.45" y="323.5" width="8.9" height="15.399999999999988" fill="#e28a99" stroke="#db7a8c" stroke-width="0.6"/>
<rect x="362.05" y="320.6" width="8.9" height="18.299999999999965" fill="#8aa9c6" stroke="#7898bb" stroke-width="0.6"/>
<rect x="376.75" y="308.3" width="8.9" height="30.599999999999977" fill="#e28a99" stroke="#db7a8c" stroke-width="0.6"/>
<line x1="297.7" y1="248.8" x2="297.7" y2="339.4" stroke="#161616" stroke-width="1.2"/>
<line x1="297.2" y1="338.9" x2="390.8" y2="338.9" stroke="#161616" stroke-width="1.2"/>
<line x1="306.9" y1="338.9" x2="306.9" y2="342.0" stroke="#161616" stroke-width="1.1"/>
<line x1="321.9" y1="338.9" x2="321.9" y2="342.0" stroke="#161616" stroke-width="1.1"/>
<line x1="336.9" y1="338.9" x2="336.9" y2="342.0" stroke="#161616" stroke-width="1.1"/>
<line x1="351.9" y1="338.9" x2="351.9" y2="342.0" stroke="#161616" stroke-width="1.1"/>
<line x1="366.5" y1="338.9" x2="366.5" y2="342.0" stroke="#161616" stroke-width="1.1"/>
<line x1="381.2" y1="338.9" x2="381.2" y2="342.0" stroke="#161616" stroke-width="1.1"/>
<line x1="294.7" y1="252" x2="297.7" y2="252" stroke="#161616" stroke-width="0.9"/>
<text transform="translate(291.09999999999997,254.9) scale(1.0,1)" font-size="8.0" text-anchor="end" fill="#231f20">300</text>
<line x1="294.7" y1="282" x2="297.7" y2="282" stroke="#161616" stroke-width="0.9"/>
<text transform="translate(291.09999999999997,284.9) scale(1.0,1)" font-size="8.0" text-anchor="end" fill="#231f20">200</text>
<line x1="294.7" y1="310.4" x2="297.7" y2="310.4" stroke="#161616" stroke-width="0.9"/>
<text transform="translate(291.09999999999997,313.29999999999995) scale(1.0,1)" font-size="8.0" text-anchor="end" fill="#231f20">100</text>
<line x1="294.7" y1="338.8" x2="297.7" y2="338.8" stroke="#161616" stroke-width="0.9"/>
<text transform="translate(291.09999999999997,341.7) scale(1.0,1)" font-size="8.0" text-anchor="end" fill="#231f20">0</text>
<line x1="381.2" y1="304.4" x2="381.2" y2="312.6" stroke="#2a2a2a" stroke-width="1.1"/>
<line x1="378.8" y1="304.4" x2="383.59999999999997" y2="304.4" stroke="#2a2a2a" stroke-width="1.1"/>
<line x1="378.8" y1="312.6" x2="383.59999999999997" y2="312.6" stroke="#2a2a2a" stroke-width="1.1"/>
<line x1="366.5" y1="318" x2="366.5" y2="322" stroke="#2a2a2a" stroke-width="1.1"/>
<line x1="364.1" y1="318" x2="368.9" y2="318" stroke="#2a2a2a" stroke-width="1.1"/>
<line x1="364.1" y1="322" x2="368.9" y2="322" stroke="#2a2a2a" stroke-width="1.1"/>
<circle cx="304" cy="338.8" r="1.8" fill="#fff" stroke="#0f4a8a" stroke-width="0.95"/>
<circle cx="307" cy="338.4" r="1.8" fill="#fff" stroke="#0f4a8a" stroke-width="0.95"/>
<circle cx="310" cy="338.8" r="1.8" fill="#fff" stroke="#0f4a8a" stroke-width="0.95"/>
<circle cx="318.8" cy="338.6" r="1.8" fill="#fff" stroke="#c8102e" stroke-width="0.95"/>
<circle cx="321.9" cy="338" r="1.8" fill="#fff" stroke="#c8102e" stroke-width="0.95"/>
<circle cx="325" cy="338.6" r="1.8" fill="#fff" stroke="#c8102e" stroke-width="0.95"/>
<circle cx="336.7" cy="314.4" r="2.0" fill="#0f4a8a"/>
<circle cx="338.2" cy="318.4" r="2.0" fill="#0f4a8a"/>
<circle cx="334" cy="321.4" r="2.0" fill="#0f4a8a"/>
<circle cx="340" cy="322.6" r="2.0" fill="#0f4a8a"/>
<circle cx="334" cy="325" r="2.0" fill="#0f4a8a"/>
<circle cx="337.3" cy="325.4" r="2.0" fill="#0f4a8a"/>
<circle cx="351.5" cy="311.7" r="2.0" fill="#c8102e"/>
<circle cx="350.6" cy="320.3" r="2.0" fill="#c8102e"/>
<circle cx="348.2" cy="322.6" r="2.0" fill="#c8102e"/>
<circle cx="354.6" cy="322.6" r="2.0" fill="#c8102e"/>
<circle cx="348.8" cy="329" r="2.0" fill="#c8102e"/>
<circle cx="353.7" cy="326.8" r="2.0" fill="#c8102e"/>
<circle cx="365.2" cy="314" r="2.0" fill="#0f4a8a"/>
<circle cx="369.6" cy="314.4" r="2.0" fill="#0f4a8a"/>
<circle cx="362.9" cy="317.7" r="2.0" fill="#0f4a8a"/>
<circle cx="366.5" cy="320" r="2.0" fill="#0f4a8a"/>
<circle cx="367.1" cy="323.9" r="2.0" fill="#0f4a8a"/>
<circle cx="366.1" cy="328.5" r="2.0" fill="#0f4a8a"/>
<circle cx="381.1" cy="286.1" r="2.0" fill="#c8102e"/>
<circle cx="381.1" cy="301.6" r="2.0" fill="#c8102e"/>
<circle cx="378.4" cy="313.5" r="2.0" fill="#c8102e"/>
<circle cx="383.9" cy="313.5" r="2.0" fill="#c8102e"/>
<circle cx="381.1" cy="312" r="2.0" fill="#c8102e"/>
<circle cx="381.1" cy="319" r="2.0" fill="#c8102e"/>
<polyline points="367.1,307.1 367.1,259.6 381.7,259.6 381.7,278.8" fill="none" stroke="#2b2b2b" stroke-width="1.35" stroke-linejoin="round"/>
<polygon points="374.40,253.00 374.96,254.22 376.30,254.38 375.31,255.30 375.58,256.62 374.40,255.96 373.22,256.62 373.49,255.30 372.50,254.38 373.84,254.22" fill="#231f20"/>
<text transform="translate(343.7,234.6) scale(0.93,1)" font-size="9.9" font-style="italic" text-anchor="middle" fill="#231f20">CCL3</text>
<text transform="translate(311.4,350.7) rotate(-45) scale(0.93,1)" font-size="9.0" text-anchor="end" fill="#231f20">Ncf2<tspan font-size="6.3" dy="-2.7">fl/fl</tspan></text>
<text transform="translate(326.4,350.7) rotate(-45) scale(0.93,1)" font-size="9.0" text-anchor="end" fill="#231f20">Ncf2<tspan font-size="6.3" dy="-2.7">KO</tspan></text>
<text transform="translate(341.4,350.7) rotate(-45) scale(0.93,1)" font-size="9.0" text-anchor="end" fill="#231f20">Ncf2<tspan font-size="6.3" dy="-2.7">fl/fl</tspan></text>
<text transform="translate(356.4,350.7) rotate(-45) scale(0.93,1)" font-size="9.0" text-anchor="end" fill="#231f20">Ncf2<tspan font-size="6.3" dy="-2.7">KO</tspan></text>
<text transform="translate(371.0,350.7) rotate(-45) scale(0.93,1)" font-size="9.0" text-anchor="end" fill="#231f20">Ncf2<tspan font-size="6.3" dy="-2.7">fl/fl</tspan></text>
<text transform="translate(385.7,350.7) rotate(-45) scale(0.93,1)" font-size="9.0" text-anchor="end" fill="#231f20">Ncf2<tspan font-size="6.3" dy="-2.7">KO</tspan></text>
<line x1="303.55" y1="376.8" x2="307.95" y2="376.8" stroke="#3a3a3a" stroke-width="1"/>
<line x1="303.55" y1="387.8" x2="307.95" y2="387.8" stroke="#3a3a3a" stroke-width="1"/>
<line x1="319.05" y1="376.8" x2="323.45" y2="376.8" stroke="#3a3a3a" stroke-width="1"/>
<line x1="319.05" y1="387.8" x2="323.45" y2="387.8" stroke="#3a3a3a" stroke-width="1"/>
<line x1="334.05" y1="376.8" x2="338.45" y2="376.8" stroke="#3a3a3a" stroke-width="1"/>
<line x1="336.25" y1="374.6" x2="336.25" y2="379.0" stroke="#3a3a3a" stroke-width="1"/>
<line x1="334.05" y1="387.8" x2="338.45" y2="387.8" stroke="#3a3a3a" stroke-width="1"/>
<line x1="349.05" y1="376.8" x2="353.45" y2="376.8" stroke="#3a3a3a" stroke-width="1"/>
<line x1="351.25" y1="374.6" x2="351.25" y2="379.0" stroke="#3a3a3a" stroke-width="1"/>
<line x1="349.05" y1="387.8" x2="353.45" y2="387.8" stroke="#3a3a3a" stroke-width="1"/>
<line x1="364.05" y1="376.8" x2="368.45" y2="376.8" stroke="#3a3a3a" stroke-width="1"/>
<line x1="364.05" y1="387.8" x2="368.45" y2="387.8" stroke="#3a3a3a" stroke-width="1"/>
<line x1="366.25" y1="385.6" x2="366.25" y2="390.0" stroke="#3a3a3a" stroke-width="1"/>
<line x1="379.55" y1="376.8" x2="383.95" y2="376.8" stroke="#3a3a3a" stroke-width="1"/>
<line x1="379.55" y1="387.8" x2="383.95" y2="387.8" stroke="#3a3a3a" stroke-width="1"/>
<line x1="381.75" y1="385.6" x2="381.75" y2="390.0" stroke="#3a3a3a" stroke-width="1"/>
<rect x="455.95" y="337.8" width="8.9" height="1.8000000000000227" fill="#8aa9c6" stroke="#7898bb" stroke-width="0.6"/>
<rect x="470.15000000000003" y="332.6" width="8.9" height="7.0000000000000115" fill="#e28a99" stroke="#db7a8c" stroke-width="0.6"/>
<rect x="485.35" y="313.3" width="8.9" height="26.300000000000022" fill="#8aa9c6" stroke="#7898bb" stroke-width="0.6"/>
<rect x="499.25" y="284.2" width="8.9" height="7.900000000000046" fill="#e28a99" stroke="#db7a8c" stroke-width="0.6"/>
<rect x="499.25" y="299.4" width="8.9" height="40.200000000000045" fill="#e28a99" stroke="#db7a8c" stroke-width="0.6"/>
<line x1="422" y1="247.7" x2="422" y2="292.1" stroke="#161616" stroke-width="1.2"/>
<line x1="422" y1="299.4" x2="422" y2="340.1" stroke="#161616" stroke-width="1.2"/>
<line x1="420.4" y1="292.1" x2="423.6" y2="292.1" stroke="#161616" stroke-width="1.1"/>
<line x1="420.4" y1="299.4" x2="423.6" y2="299.4" stroke="#161616" stroke-width="1.1"/>
<line x1="421.5" y1="339.6" x2="513.4" y2="339.6" stroke="#161616" stroke-width="1.2"/>
<line x1="432" y1="339.6" x2="432" y2="342.70000000000005" stroke="#161616" stroke-width="1.1"/>
<line x1="446" y1="339.6" x2="446" y2="342.70000000000005" stroke="#161616" stroke-width="1.1"/>
<line x1="460.4" y1="339.6" x2="460.4" y2="342.70000000000005" stroke="#161616" stroke-width="1.1"/>
<line x1="474.6" y1="339.6" x2="474.6" y2="342.70000000000005" stroke="#161616" stroke-width="1.1"/>
<line x1="489.8" y1="339.6" x2="489.8" y2="342.70000000000005" stroke="#161616" stroke-width="1.1"/>
<line x1="503.7" y1="339.6" x2="503.7" y2="342.70000000000005" stroke="#161616" stroke-width="1.1"/>
<line x1="419" y1="251.5" x2="422" y2="251.5" stroke="#161616" stroke-width="0.9"/>
<text transform="translate(415.4,254.4) scale(1.0,1)" font-size="8.0" text-anchor="end" fill="#231f20">3000</text>
<line x1="419" y1="271.7" x2="422" y2="271.7" stroke="#161616" stroke-width="0.9"/>
<text transform="translate(415.4,274.59999999999997) scale(1.0,1)" font-size="8.0" text-anchor="end" fill="#231f20">2000</text>
<line x1="419" y1="291.7" x2="422" y2="291.7" stroke="#161616" stroke-width="0.9"/>
<text transform="translate(415.4,294.59999999999997) scale(1.0,1)" font-size="8.0" text-anchor="end" fill="#231f20">1000</text>
<line x1="419" y1="300.1" x2="422" y2="300.1" stroke="#161616" stroke-width="0.9"/>
<text transform="translate(415.4,303.0) scale(1.0,1)" font-size="8.0" text-anchor="end" fill="#231f20">1000</text>
<line x1="419" y1="320" x2="422" y2="320" stroke="#161616" stroke-width="0.9"/>
<text transform="translate(415.4,322.9) scale(1.0,1)" font-size="8.0" text-anchor="end" fill="#231f20">500</text>
<line x1="419" y1="339.3" x2="422" y2="339.3" stroke="#161616" stroke-width="0.9"/>
<text transform="translate(415.4,342.2) scale(1.0,1)" font-size="8.0" text-anchor="end" fill="#231f20">0</text>
<line x1="503.7" y1="281.5" x2="503.7" y2="286.7" stroke="#2a2a2a" stroke-width="1.1"/>
<line x1="501.3" y1="281.5" x2="506.09999999999997" y2="281.5" stroke="#2a2a2a" stroke-width="1.1"/>
<line x1="501.3" y1="286.7" x2="506.09999999999997" y2="286.7" stroke="#2a2a2a" stroke-width="1.1"/>
<line x1="489.8" y1="311" x2="489.8" y2="315" stroke="#2a2a2a" stroke-width="1.1"/>
<line x1="487.40000000000003" y1="311" x2="492.2" y2="311" stroke="#2a2a2a" stroke-width="1.1"/>
<line x1="487.40000000000003" y1="315" x2="492.2" y2="315" stroke="#2a2a2a" stroke-width="1.1"/>
<line x1="474.6" y1="329" x2="474.6" y2="333" stroke="#2a2a2a" stroke-width="1.1"/>
<line x1="472.20000000000005" y1="329" x2="477.0" y2="329" stroke="#2a2a2a" stroke-width="1.1"/>
<line x1="472.20000000000005" y1="333" x2="477.0" y2="333" stroke="#2a2a2a" stroke-width="1.1"/>
<circle cx="428.5" cy="339.4" r="1.8" fill="#fff" stroke="#0f4a8a" stroke-width="0.95"/>
<circle cx="432" cy="339" r="1.8" fill="#fff" stroke="#0f4a8a" stroke-width="0.95"/>
<circle cx="435.5" cy="339.4" r="1.8" fill="#fff" stroke="#0f4a8a" stroke-width="0.95"/>
<circle cx="443" cy="339.6" r="1.8" fill="#fff" stroke="#c8102e" stroke-width="0.95"/>
<circle cx="446.1" cy="339.6" r="1.8" fill="#fff" stroke="#c8102e" stroke-width="0.95"/>
<circle cx="449.2" cy="338.7" r="1.8" fill="#fff" stroke="#c8102e" stroke-width="0.95"/>
<circle cx="443" cy="337" r="1.8" fill="#fff" stroke="#c8102e" stroke-width="0.95"/>
<circle cx="447.5" cy="336.5" r="1.8" fill="#fff" stroke="#c8102e" stroke-width="0.95"/>
<circle cx="445.2" cy="335.6" r="1.8" fill="#fff" stroke="#c8102e" stroke-width="0.95"/>
<circle cx="458.3" cy="338.6" r="2.0" fill="#0f4a8a"/>
<circle cx="460.8" cy="337.6" r="2.0" fill="#0f4a8a"/>
<circle cx="463.3" cy="338.6" r="2.0" fill="#0f4a8a"/>
<circle cx="461" cy="339.3" r="2.0" fill="#0f4a8a"/>
<circle cx="474.8" cy="319.9" r="2.0" fill="#c8102e"/>
<circle cx="472.1" cy="329.4" r="2.0" fill="#c8102e"/>
<circle cx="474.8" cy="330" r="2.0" fill="#c8102e"/>
<circle cx="477.5" cy="330.9" r="2.0" fill="#c8102e"/>
<circle cx="472.6" cy="334.1" r="2.0" fill="#c8102e"/>
<circle cx="476.6" cy="334.9" r="2.0" fill="#c8102e"/>
<circle cx="487.2" cy="308" r="2.0" fill="#0f4a8a"/>
<circle cx="490.3" cy="308.9" r="2.0" fill="#0f4a8a"/>
<circle cx="492.7" cy="309.9" r="2.0" fill="#0f4a8a"/>
<circle cx="485.8" cy="311.1" r="2.0" fill="#0f4a8a"/>
<circle cx="489.4" cy="312.6" r="2.0" fill="#0f4a8a"/>
<circle cx="492.7" cy="314.1" r="2.0" fill="#0f4a8a"/>
<circle cx="488.5" cy="317.2" r="2.0" fill="#0f4a8a"/>
<circle cx="489.4" cy="319.9" r="2.0" fill="#0f4a8a"/>
<circle cx="503.7" cy="273.3" r="2.0" fill="#c8102e"/>
<circle cx="501.3" cy="277.9" r="2.0" fill="#c8102e"/>
<circle cx="504.9" cy="279.7" r="2.0" fill="#c8102e"/>
<circle cx="503.7" cy="284" r="2.0" fill="#c8102e"/>
<circle cx="500.4" cy="287.9" r="2.0" fill="#c8102e"/>
<circle cx="506.8" cy="288.5" r="2.0" fill="#c8102e"/>
<circle cx="503.7" cy="289.8" r="2.0" fill="#c8102e"/>
<circle cx="503.7" cy="304.9" r="2.0" fill="#c8102e"/>
<polyline points="460.6,330.9 460.6,303.1 474.8,303.1 474.8,315.3" fill="none" stroke="#2b2b2b" stroke-width="1.35" stroke-linejoin="round"/>
<polygon points="465.70,296.00 466.26,297.22 467.60,297.38 466.61,298.30 466.88,299.62 465.70,298.96 464.52,299.62 464.79,298.30 463.80,297.38 465.14,297.22" fill="#231f20"/>
<polygon points="470.10,296.00 470.66,297.22 472.00,297.38 471.01,298.30 471.28,299.62 470.10,298.96 468.92,299.62 469.19,298.30 468.20,297.38 469.54,297.22" fill="#231f20"/>
<polyline points="489.4,298 489.4,257.4 504,257.4 504,266" fill="none" stroke="#2b2b2b" stroke-width="1.35" stroke-linejoin="round"/>
<polygon points="492.70,250.70 493.26,251.92 494.60,252.08 493.61,253.00 493.88,254.32 492.70,253.66 491.52,254.32 491.79,253.00 490.80,252.08 492.14,251.92" fill="#231f20"/>
<polygon points="497.10,250.70 497.66,251.92 499.00,252.08 498.01,253.00 498.28,254.32 497.10,253.66 495.92,254.32 496.19,253.00 495.20,252.08 496.54,251.92" fill="#231f20"/>
<polygon points="501.50,250.70 502.06,251.92 503.40,252.08 502.41,253.00 502.68,254.32 501.50,253.66 500.32,254.32 500.59,253.00 499.60,252.08 500.94,251.92" fill="#231f20"/>
<text transform="translate(461,234.6) scale(0.93,1)" font-size="9.9" font-style="italic" text-anchor="middle" fill="#231f20">CCL4</text>
<text transform="translate(436.5,351.40000000000003) rotate(-45) scale(0.93,1)" font-size="9.0" text-anchor="end" fill="#231f20">Ncf2<tspan font-size="6.3" dy="-2.7">fl/fl</tspan></text>
<text transform="translate(450.5,351.40000000000003) rotate(-45) scale(0.93,1)" font-size="9.0" text-anchor="end" fill="#231f20">Ncf2<tspan font-size="6.3" dy="-2.7">KO</tspan></text>
<text transform="translate(464.9,351.40000000000003) rotate(-45) scale(0.93,1)" font-size="9.0" text-anchor="end" fill="#231f20">Ncf2<tspan font-size="6.3" dy="-2.7">fl/fl</tspan></text>
<text transform="translate(479.1,351.40000000000003) rotate(-45) scale(0.93,1)" font-size="9.0" text-anchor="end" fill="#231f20">Ncf2<tspan font-size="6.3" dy="-2.7">KO</tspan></text>
<text transform="translate(494.3,351.40000000000003) rotate(-45) scale(0.93,1)" font-size="9.0" text-anchor="end" fill="#231f20">Ncf2<tspan font-size="6.3" dy="-2.7">fl/fl</tspan></text>
<text transform="translate(508.2,351.40000000000003) rotate(-45) scale(0.93,1)" font-size="9.0" text-anchor="end" fill="#231f20">Ncf2<tspan font-size="6.3" dy="-2.7">KO</tspan></text>
<line x1="429.8" y1="376.8" x2="434.2" y2="376.8" stroke="#3a3a3a" stroke-width="1"/>
<line x1="429.8" y1="387.8" x2="434.2" y2="387.8" stroke="#3a3a3a" stroke-width="1"/>
<line x1="444.05" y1="376.8" x2="448.45" y2="376.8" stroke="#3a3a3a" stroke-width="1"/>
<line x1="444.05" y1="387.8" x2="448.45" y2="387.8" stroke="#3a3a3a" stroke-width="1"/>
<line x1="457.8" y1="376.8" x2="462.2" y2="376.8" stroke="#3a3a3a" stroke-width="1"/>
<line x1="460" y1="374.6" x2="460" y2="379.0" stroke="#3a3a3a" stroke-width="1"/>
<line x1="457.8" y1="387.8" x2="462.2" y2="387.8" stroke="#3a3a3a" stroke-width="1"/>
<line x1="471.55" y1="376.8" x2="475.95" y2="376.8" stroke="#3a3a3a" stroke-width="1"/>
<line x1="473.75" y1="374.6" x2="473.75" y2="379.0" stroke="#3a3a3a" stroke-width="1"/>
<line x1="471.55" y1="387.8" x2="475.95" y2="387.8" stroke="#3a3a3a" stroke-width="1"/>
<line x1="485.8" y1="376.8" x2="490.2" y2="376.8" stroke="#3a3a3a" stroke-width="1"/>
<line x1="485.8" y1="387.8" x2="490.2" y2="387.8" stroke="#3a3a3a" stroke-width="1"/>
<line x1="488" y1="385.6" x2="488" y2="390.0" stroke="#3a3a3a" stroke-width="1"/>
<line x1="499.8" y1="376.8" x2="504.2" y2="376.8" stroke="#3a3a3a" stroke-width="1"/>
<line x1="499.8" y1="387.8" x2="504.2" y2="387.8" stroke="#3a3a3a" stroke-width="1"/>
<line x1="502" y1="385.6" x2="502" y2="390.0" stroke="#3a3a3a" stroke-width="1"/>
<rect x="59.75" y="535.8" width="8.9" height="3.0999999999999774" fill="#8aa9c6" stroke="#7898bb" stroke-width="0.6"/>
<rect x="74.45" y="530.3" width="8.9" height="8.599999999999977" fill="#e28a99" stroke="#db7a8c" stroke-width="0.6"/>
<rect x="89.64999999999999" y="486.8" width="8.9" height="9.399999999999988" fill="#8aa9c6" stroke="#7898bb" stroke-width="0.6"/>
<rect x="89.64999999999999" y="503" width="8.9" height="35.89999999999998" fill="#8aa9c6" stroke="#7898bb" stroke-width="0.6"/>
<rect x="104.55" y="474.6" width="8.9" height="21.599999999999977" fill="#e28a99" stroke="#db7a8c" stroke-width="0.6"/>
<rect x="104.55" y="503" width="8.9" height="35.89999999999998" fill="#e28a99" stroke="#db7a8c" stroke-width="0.6"/>
<rect x="119.75" y="486.1" width="8.9" height="10.099999999999977" fill="#8aa9c6" stroke="#7898bb" stroke-width="0.6"/>
<rect x="119.75" y="503" width="8.9" height="35.89999999999998" fill="#8aa9c6" stroke="#7898bb" stroke-width="0.6"/>
<rect x="134.85000000000002" y="473.3" width="8.9" height="22.899999999999988" fill="#e28a99" stroke="#db7a8c" stroke-width="0.6"/>
<rect x="134.85000000000002" y="503" width="8.9" height="35.89999999999998" fill="#e28a99" stroke="#db7a8c" stroke-width="0.6"/>
<line x1="54.3" y1="455.8" x2="54.3" y2="496.2" stroke="#161616" stroke-width="1.2"/>
<line x1="54.3" y1="503" x2="54.3" y2="539.4" stroke="#161616" stroke-width="1.2"/>
<line x1="52.699999999999996" y1="496.2" x2="55.9" y2="496.2" stroke="#161616" stroke-width="1.1"/>
<line x1="52.699999999999996" y1="503" x2="55.9" y2="503" stroke="#161616" stroke-width="1.1"/>
<line x1="53.8" y1="538.9" x2="150" y2="538.9" stroke="#161616" stroke-width="1.2"/>
<line x1="64.2" y1="538.9" x2="64.2" y2="542.0" stroke="#161616" stroke-width="1.1"/>
<line x1="78.9" y1="538.9" x2="78.9" y2="542.0" stroke="#161616" stroke-width="1.1"/>
<line x1="94.1" y1="538.9" x2="94.1" y2="542.0" stroke="#161616" stroke-width="1.1"/>
<line x1="109" y1="538.9" x2="109" y2="542.0" stroke="#161616" stroke-width="1.1"/>
<line x1="124.2" y1="538.9" x2="124.2" y2="542.0" stroke="#161616" stroke-width="1.1"/>
<line x1="139.3" y1="538.9" x2="139.3" y2="542.0" stroke="#161616" stroke-width="1.1"/>
<line x1="51.3" y1="461" x2="54.3" y2="461" stroke="#161616" stroke-width="0.9"/>
<text transform="translate(47.699999999999996,463.9) scale(1.0,1)" font-size="8.3" text-anchor="end" fill="#231f20">800</text>
<line x1="51.3" y1="469.6" x2="54.3" y2="469.6" stroke="#161616" stroke-width="0.9"/>
<text transform="translate(47.699999999999996,472.5) scale(1.0,1)" font-size="8.3" text-anchor="end" fill="#231f20">600</text>
<line x1="51.3" y1="478.5" x2="54.3" y2="478.5" stroke="#161616" stroke-width="0.9"/>
<text transform="translate(47.699999999999996,481.4) scale(1.0,1)" font-size="8.3" text-anchor="end" fill="#231f20">400</text>
<line x1="51.3" y1="487.3" x2="54.3" y2="487.3" stroke="#161616" stroke-width="0.9"/>
<text transform="translate(47.699999999999996,490.2) scale(1.0,1)" font-size="8.3" text-anchor="end" fill="#231f20">200</text>
<line x1="51.3" y1="503" x2="54.3" y2="503" stroke="#161616" stroke-width="0.9"/>
<text transform="translate(47.699999999999996,505.9) scale(1.0,1)" font-size="8.3" text-anchor="end" fill="#231f20">10</text>
<line x1="51.3" y1="510" x2="54.3" y2="510" stroke="#161616" stroke-width="0.9"/>
<text transform="translate(47.699999999999996,512.9) scale(1.0,1)" font-size="8.3" text-anchor="end" fill="#231f20">8</text>
<line x1="51.3" y1="517.4" x2="54.3" y2="517.4" stroke="#161616" stroke-width="0.9"/>
<text transform="translate(47.699999999999996,520.3) scale(1.0,1)" font-size="8.3" text-anchor="end" fill="#231f20">6</text>
<line x1="51.3" y1="524.5" x2="54.3" y2="524.5" stroke="#161616" stroke-width="0.9"/>
<text transform="translate(47.699999999999996,527.4) scale(1.0,1)" font-size="8.3" text-anchor="end" fill="#231f20">4</text>
<line x1="51.3" y1="531.5" x2="54.3" y2="531.5" stroke="#161616" stroke-width="0.9"/>
<text transform="translate(47.699999999999996,534.4) scale(1.0,1)" font-size="8.3" text-anchor="end" fill="#231f20">2</text>
<line x1="51.3" y1="538.6" x2="54.3" y2="538.6" stroke="#161616" stroke-width="0.9"/>
<text transform="translate(47.699999999999996,541.5) scale(1.0,1)" font-size="8.3" text-anchor="end" fill="#231f20">0</text>
<line x1="78.9" y1="526.8" x2="78.9" y2="537" stroke="#2a2a2a" stroke-width="1.1"/>
<line x1="76.5" y1="526.8" x2="81.30000000000001" y2="526.8" stroke="#2a2a2a" stroke-width="1.1"/>
<line x1="76.5" y1="537" x2="81.30000000000001" y2="537" stroke="#2a2a2a" stroke-width="1.1"/>
<line x1="124.2" y1="482.8" x2="124.2" y2="486.4" stroke="#2a2a2a" stroke-width="1.1"/>
<line x1="121.8" y1="482.8" x2="126.60000000000001" y2="482.8" stroke="#2a2a2a" stroke-width="1.1"/>
<line x1="121.8" y1="486.4" x2="126.60000000000001" y2="486.4" stroke="#2a2a2a" stroke-width="1.1"/>
<line x1="139.3" y1="471.2" x2="139.3" y2="475.3" stroke="#2a2a2a" stroke-width="1.1"/>
<line x1="136.9" y1="471.2" x2="141.70000000000002" y2="471.2" stroke="#2a2a2a" stroke-width="1.1"/>
<line x1="136.9" y1="475.3" x2="141.70000000000002" y2="475.3" stroke="#2a2a2a" stroke-width="1.1"/>
<circle cx="65.7" cy="532.3" r="2.0" fill="#0f4a8a"/>
<circle cx="63" cy="534.1" r="2.0" fill="#0f4a8a"/>
<circle cx="60.8" cy="535.4" r="2.0" fill="#0f4a8a"/>
<circle cx="66.6" cy="536.3" r="2.0" fill="#0f4a8a"/>
<circle cx="63.3" cy="536.7" r="2.0" fill="#0f4a8a"/>
<circle cx="79" cy="517.7" r="2.0" fill="#c8102e"/>
<circle cx="79" cy="522.6" r="2.0" fill="#c8102e"/>
<circle cx="75.7" cy="534.5" r="2.0" fill="#c8102e"/>
<circle cx="79" cy="534.5" r="2.0" fill="#c8102e"/>
<circle cx="82.1" cy="534.5" r="2.0" fill="#c8102e"/>
<circle cx="77.6" cy="536.3" r="2.0" fill="#c8102e"/>
<circle cx="80.9" cy="536.3" r="2.0" fill="#c8102e"/>
<circle cx="91.3" cy="483.7" r="2.0" fill="#0f4a8a"/>
<circle cx="94.9" cy="484.3" r="2.0" fill="#0f4a8a"/>
<circle cx="98" cy="485.2" r="2.0" fill="#0f4a8a"/>
<circle cx="90.7" cy="487.4" r="2.0" fill="#0f4a8a"/>
<circle cx="94.9" cy="487.9" r="2.0" fill="#0f4a8a"/>
<circle cx="109.5" cy="470.6" r="2.0" fill="#c8102e"/>
<circle cx="106.4" cy="472.8" r="2.0" fill="#c8102e"/>
<circle cx="106.4" cy="476.4" r="2.0" fill="#c8102e"/>
<circle cx="110.5" cy="475.7" r="2.0" fill="#c8102e"/>
<circle cx="113.2" cy="477.5" r="2.0" fill="#c8102e"/>
<circle cx="109" cy="482.5" r="2.0" fill="#c8102e"/>
<circle cx="124.7" cy="478.8" r="2.0" fill="#0f4a8a"/>
<circle cx="121.4" cy="487" r="2.0" fill="#0f4a8a"/>
<circle cx="124.2" cy="485.2" r="2.0" fill="#0f4a8a"/>
<circle cx="127.3" cy="485.6" r="2.0" fill="#0f4a8a"/>
<circle cx="136" cy="468.4" r="2.0" fill="#c8102e"/>
<circle cx="139.7" cy="469.1" r="2.0" fill="#c8102e"/>
<circle cx="143.3" cy="468.4" r="2.0" fill="#c8102e"/>
<circle cx="139.3" cy="473.3" r="2.0" fill="#c8102e"/>
<circle cx="138.2" cy="477.9" r="2.0" fill="#c8102e"/>
<circle cx="139.7" cy="479.3" r="2.0" fill="#c8102e"/>
<polyline points="93,466.9 93,459.9 109.3,459.9 109.3,466.2" fill="none" stroke="#2b2b2b" stroke-width="1.35" stroke-linejoin="round"/>
<polygon points="96.90,452.80 97.46,454.02 98.80,454.18 97.81,455.10 98.08,456.42 96.90,455.76 95.72,456.42 95.99,455.10 95.00,454.18 96.34,454.02" fill="#231f20"/>
<polygon points="101.30,452.80 101.86,454.02 103.20,454.18 102.21,455.10 102.48,456.42 101.30,455.76 100.12,456.42 100.39,455.10 99.40,454.18 100.74,454.02" fill="#231f20"/>
<polygon points="105.70,452.80 106.26,454.02 107.60,454.18 106.61,455.10 106.88,456.42 105.70,455.76 104.52,456.42 104.79,455.10 103.80,454.18 105.14,454.02" fill="#231f20"/>
<polyline points="122.4,466 122.4,459.9 138.3,459.9 138.3,466" fill="none" stroke="#2b2b2b" stroke-width="1.35" stroke-linejoin="round"/>
<polygon points="128.00,452.80 128.56,454.02 129.90,454.18 128.91,455.10 129.18,456.42 128.00,455.76 126.82,456.42 127.09,455.10 126.10,454.18 127.44,454.02" fill="#231f20"/>
<polygon points="132.40,452.80 132.96,454.02 134.30,454.18 133.31,455.10 133.58,456.42 132.40,455.76 131.22,456.42 131.49,455.10 130.50,454.18 131.84,454.02" fill="#231f20"/>
<text transform="translate(97.4,433) scale(0.93,1)" font-size="9.9" font-style="italic" text-anchor="middle" fill="#231f20">IL1b</text>
<text transform="translate(68.7,550.6999999999999) rotate(-45) scale(0.93,1)" font-size="9.0" text-anchor="end" fill="#231f20">Ncf2<tspan font-size="6.3" dy="-2.7">fl/fl</tspan></text>
<text transform="translate(83.4,550.6999999999999) rotate(-45) scale(0.93,1)" font-size="9.0" text-anchor="end" fill="#231f20">Ncf2<tspan font-size="6.3" dy="-2.7">LysMcre</tspan></text>
<text transform="translate(98.6,550.6999999999999) rotate(-45) scale(0.93,1)" font-size="9.0" text-anchor="end" fill="#231f20">Ncf2<tspan font-size="6.3" dy="-2.7">fl/fl</tspan></text>
<text transform="translate(113.5,550.6999999999999) rotate(-45) scale(0.93,1)" font-size="9.0" text-anchor="end" fill="#231f20">Ncf2<tspan font-size="6.3" dy="-2.7">LysMcre</tspan></text>
<text transform="translate(128.7,550.6999999999999) rotate(-45) scale(0.93,1)" font-size="9.0" text-anchor="end" fill="#231f20">Ncf2<tspan font-size="6.3" dy="-2.7">fl/fl</tspan></text>
<text transform="translate(143.8,550.6999999999999) rotate(-45) scale(0.93,1)" font-size="9.0" text-anchor="end" fill="#231f20">Ncf2<tspan font-size="6.3" dy="-2.7">LysMcre</tspan></text>
<line x1="58.4" y1="586.1" x2="62.800000000000004" y2="586.1" stroke="#3a3a3a" stroke-width="1"/>
<line x1="58.4" y1="597.1" x2="62.800000000000004" y2="597.1" stroke="#3a3a3a" stroke-width="1"/>
<line x1="73.8" y1="586.1" x2="78.2" y2="586.1" stroke="#3a3a3a" stroke-width="1"/>
<line x1="73.8" y1="597.1" x2="78.2" y2="597.1" stroke="#3a3a3a" stroke-width="1"/>
<line x1="89.1" y1="586.1" x2="93.5" y2="586.1" stroke="#3a3a3a" stroke-width="1"/>
<line x1="91.3" y1="583.9" x2="91.3" y2="588.3000000000001" stroke="#3a3a3a" stroke-width="1"/>
<line x1="89.1" y1="597.1" x2="93.5" y2="597.1" stroke="#3a3a3a" stroke-width="1"/>
<line x1="104.5" y1="586.1" x2="108.9" y2="586.1" stroke="#3a3a3a" stroke-width="1"/>
<line x1="106.7" y1="583.9" x2="106.7" y2="588.3000000000001" stroke="#3a3a3a" stroke-width="1"/>
<line x1="104.5" y1="597.1" x2="108.9" y2="597.1" stroke="#3a3a3a" stroke-width="1"/>
<line x1="119.89999999999999" y1="586.1" x2="124.3" y2="586.1" stroke="#3a3a3a" stroke-width="1"/>
<line x1="119.89999999999999" y1="597.1" x2="124.3" y2="597.1" stroke="#3a3a3a" stroke-width="1"/>
<line x1="122.1" y1="594.9" x2="122.1" y2="599.3000000000001" stroke="#3a3a3a" stroke-width="1"/>
<line x1="135.70000000000002" y1="586.1" x2="140.1" y2="586.1" stroke="#3a3a3a" stroke-width="1"/>
<line x1="135.70000000000002" y1="597.1" x2="140.1" y2="597.1" stroke="#3a3a3a" stroke-width="1"/>
<line x1="137.9" y1="594.9" x2="137.9" y2="599.3000000000001" stroke="#3a3a3a" stroke-width="1"/>
<rect x="210.55" y="536.3" width="8.9" height="2.4000000000000457" fill="#8aa9c6" stroke="#7898bb" stroke-width="0.6"/>
<rect x="225.55" y="517.5" width="8.9" height="21.2" fill="#e28a99" stroke="#db7a8c" stroke-width="0.6"/>
<rect x="240.05" y="534.3" width="8.9" height="4.400000000000046" fill="#8aa9c6" stroke="#7898bb" stroke-width="0.6"/>
<rect x="254.8" y="496.5" width="8.9" height="42.20000000000006" fill="#e28a99" stroke="#db7a8c" stroke-width="0.6"/>
<line x1="175.5" y1="453.75" x2="175.5" y2="539.2" stroke="#161616" stroke-width="1.2"/>
<line x1="175.0" y1="538.7" x2="268.8" y2="538.7" stroke="#161616" stroke-width="1.2"/>
<line x1="185" y1="538.7" x2="185" y2="541.8000000000001" stroke="#161616" stroke-width="1.1"/>
<line x1="200" y1="538.7" x2="200" y2="541.8000000000001" stroke="#161616" stroke-width="1.1"/>
<line x1="215" y1="538.7" x2="215" y2="541.8000000000001" stroke="#161616" stroke-width="1.1"/>
<line x1="230" y1="538.7" x2="230" y2="541.8000000000001" stroke="#161616" stroke-width="1.1"/>
<line x1="244.5" y1="538.7" x2="244.5" y2="541.8000000000001" stroke="#161616" stroke-width="1.1"/>
<line x1="259.25" y1="538.7" x2="259.25" y2="541.8000000000001" stroke="#161616" stroke-width="1.1"/>
<line x1="172.5" y1="457.5" x2="175.5" y2="457.5" stroke="#161616" stroke-width="0.9"/>
<text transform="translate(168.9,460.4) scale(1.0,1)" font-size="8.0" text-anchor="end" fill="#231f20">125</text>
<line x1="172.5" y1="473.75" x2="175.5" y2="473.75" stroke="#161616" stroke-width="0.9"/>
<text transform="translate(168.9,476.65) scale(1.0,1)" font-size="8.0" text-anchor="end" fill="#231f20">100</text>
<line x1="172.5" y1="490" x2="175.5" y2="490" stroke="#161616" stroke-width="0.9"/>
<text transform="translate(168.9,492.9) scale(1.0,1)" font-size="8.0" text-anchor="end" fill="#231f20">75</text>
<line x1="172.5" y1="506.25" x2="175.5" y2="506.25" stroke="#161616" stroke-width="0.9"/>
<text transform="translate(168.9,509.15) scale(1.0,1)" font-size="8.0" text-anchor="end" fill="#231f20">50</text>
<line x1="172.5" y1="522.5" x2="175.5" y2="522.5" stroke="#161616" stroke-width="0.9"/>
<text transform="translate(168.9,525.4) scale(1.0,1)" font-size="8.0" text-anchor="end" fill="#231f20">25</text>
<line x1="172.5" y1="538.25" x2="175.5" y2="538.25" stroke="#161616" stroke-width="0.9"/>
<text transform="translate(168.9,541.15) scale(1.0,1)" font-size="8.0" text-anchor="end" fill="#231f20">0</text>
<line x1="259.25" y1="490.3" x2="259.25" y2="501.6" stroke="#2a2a2a" stroke-width="1.1"/>
<line x1="256.85" y1="490.3" x2="261.65" y2="490.3" stroke="#2a2a2a" stroke-width="1.1"/>
<line x1="256.85" y1="501.6" x2="261.65" y2="501.6" stroke="#2a2a2a" stroke-width="1.1"/>
<line x1="230" y1="514.5" x2="230" y2="519" stroke="#2a2a2a" stroke-width="1.1"/>
<line x1="227.6" y1="514.5" x2="232.4" y2="514.5" stroke="#2a2a2a" stroke-width="1.1"/>
<line x1="227.6" y1="519" x2="232.4" y2="519" stroke="#2a2a2a" stroke-width="1.1"/>
<circle cx="182.3" cy="537.8" r="2.0" fill="#0f4a8a"/>
<circle cx="185" cy="537.3" r="2.0" fill="#0f4a8a"/>
<circle cx="187.8" cy="538.2" r="2.0" fill="#0f4a8a"/>
<circle cx="196.9" cy="535.4" r="2.0" fill="#c8102e"/>
<circle cx="199.7" cy="536.3" r="2.0" fill="#c8102e"/>
<circle cx="202.4" cy="537.3" r="2.0" fill="#c8102e"/>
<circle cx="198" cy="537.8" r="2.0" fill="#c8102e"/>
<circle cx="212.4" cy="534.1" r="2.0" fill="#0f4a8a"/>
<circle cx="215.2" cy="534.5" r="2.0" fill="#0f4a8a"/>
<circle cx="217.4" cy="536" r="2.0" fill="#0f4a8a"/>
<circle cx="211.5" cy="536.3" r="2.0" fill="#0f4a8a"/>
<circle cx="214.5" cy="537" r="2.0" fill="#0f4a8a"/>
<circle cx="229.4" cy="505.8" r="2.0" fill="#c8102e"/>
<circle cx="229.4" cy="515.3" r="2.0" fill="#c8102e"/>
<circle cx="226.5" cy="518.1" r="2.0" fill="#c8102e"/>
<circle cx="233.1" cy="518.1" r="2.0" fill="#c8102e"/>
<circle cx="229.8" cy="519" r="2.0" fill="#c8102e"/>
<circle cx="227.1" cy="523.6" r="2.0" fill="#c8102e"/>
<circle cx="232.5" cy="521.4" r="2.0" fill="#c8102e"/>
<circle cx="241.7" cy="532.3" r="2.0" fill="#0f4a8a"/>
<circle cx="243.5" cy="534.5" r="2.0" fill="#0f4a8a"/>
<circle cx="247.2" cy="534.9" r="2.0" fill="#0f4a8a"/>
<circle cx="240.8" cy="535.4" r="2.0" fill="#0f4a8a"/>
<circle cx="244" cy="536.5" r="2.0" fill="#0f4a8a"/>
<circle cx="259" cy="471.9" r="2.0" fill="#c8102e"/>
<circle cx="259" cy="484.8" r="2.0" fill="#c8102e"/>
<circle cx="255.9" cy="494.7" r="2.0" fill="#c8102e"/>
<circle cx="262.3" cy="496.5" r="2.0" fill="#c8102e"/>
<circle cx="255.9" cy="503.5" r="2.0" fill="#c8102e"/>
<circle cx="262.3" cy="505.3" r="2.0" fill="#c8102e"/>
<circle cx="259" cy="516.2" r="2.0" fill="#c8102e"/>
<polyline points="211.5,523.6 211.5,490.7 231.6,490.7 231.6,498" fill="none" stroke="#2b2b2b" stroke-width="1.35" stroke-linejoin="round"/>
<polygon points="215.00,484.10 215.56,485.32 216.90,485.48 215.91,486.40 216.18,487.72 215.00,487.06 213.82,487.72 214.09,486.40 213.10,485.48 214.44,485.32" fill="#231f20"/>
<polygon points="219.40,484.10 219.96,485.32 221.30,485.48 220.31,486.40 220.58,487.72 219.40,487.06 218.22,487.72 218.49,486.40 217.50,485.48 218.84,485.32" fill="#231f20"/>
<polygon points="223.80,484.10 224.36,485.32 225.70,485.48 224.71,486.40 224.98,487.72 223.80,487.06 222.62,487.72 222.89,486.40 221.90,485.48 223.24,485.32" fill="#231f20"/>
<polygon points="228.20,484.10 228.76,485.32 230.10,485.48 229.11,486.40 229.38,487.72 228.20,487.06 227.02,487.72 227.29,486.40 226.30,485.48 227.64,485.32" fill="#231f20"/>
<polyline points="243.5,523.9 243.5,456 259,456 259,464.2" fill="none" stroke="#2b2b2b" stroke-width="1.35" stroke-linejoin="round"/>
<polygon points="247.00,449.40 247.56,450.62 248.90,450.78 247.91,451.70 248.18,453.02 247.00,452.36 245.82,453.02 246.09,451.70 245.10,450.78 246.44,450.62" fill="#231f20"/>
<polygon points="251.40,449.40 251.96,450.62 253.30,450.78 252.31,451.70 252.58,453.02 251.40,452.36 250.22,453.02 250.49,451.70 249.50,450.78 250.84,450.62" fill="#231f20"/>
<polygon points="255.80,449.40 256.36,450.62 257.70,450.78 256.71,451.70 256.98,453.02 255.80,452.36 254.62,453.02 254.89,451.70 253.90,450.78 255.24,450.62" fill="#231f20"/>
<text transform="translate(221.25,432.5) scale(0.93,1)" font-size="9.9" font-style="italic" text-anchor="middle" fill="#231f20">CCL2</text>
<text transform="translate(189.5,550.5) rotate(-45) scale(0.93,1)" font-size="9.0" text-anchor="end" fill="#231f20">Ncf2<tspan font-size="6.3" dy="-2.7">fl/fl</tspan></text>
<text transform="translate(204.5,550.5) rotate(-45) scale(0.93,1)" font-size="9.0" text-anchor="end" fill="#231f20">Ncf2<tspan font-size="6.3" dy="-2.7">LysMcre</tspan></text>
<text transform="translate(219.5,550.5) rotate(-45) scale(0.93,1)" font-size="9.0" text-anchor="end" fill="#231f20">Ncf2<tspan font-size="6.3" dy="-2.7">fl/fl</tspan></text>
<text transform="translate(234.5,550.5) rotate(-45) scale(0.93,1)" font-size="9.0" text-anchor="end" fill="#231f20">Ncf2<tspan font-size="6.3" dy="-2.7">LysMcre</tspan></text>
<text transform="translate(249.0,550.5) rotate(-45) scale(0.93,1)" font-size="9.0" text-anchor="end" fill="#231f20">Ncf2<tspan font-size="6.3" dy="-2.7">fl/fl</tspan></text>
<text transform="translate(263.75,550.5) rotate(-45) scale(0.93,1)" font-size="9.0" text-anchor="end" fill="#231f20">Ncf2<tspan font-size="6.3" dy="-2.7">LysMcre</tspan></text>
<line x1="179.70000000000002" y1="586.1" x2="184.1" y2="586.1" stroke="#3a3a3a" stroke-width="1"/>
<line x1="179.70000000000002" y1="597.1" x2="184.1" y2="597.1" stroke="#3a3a3a" stroke-width="1"/>
<line x1="194.70000000000002" y1="586.1" x2="199.1" y2="586.1" stroke="#3a3a3a" stroke-width="1"/>
<line x1="194.70000000000002" y1="597.1" x2="199.1" y2="597.1" stroke="#3a3a3a" stroke-width="1"/>
<line x1="209.70000000000002" y1="586.1" x2="214.1" y2="586.1" stroke="#3a3a3a" stroke-width="1"/>
<line x1="211.9" y1="583.9" x2="211.9" y2="588.3000000000001" stroke="#3a3a3a" stroke-width="1"/>
<line x1="209.70000000000002" y1="597.1" x2="214.1" y2="597.1" stroke="#3a3a3a" stroke-width="1"/>
<line x1="224.9" y1="586.1" x2="229.29999999999998" y2="586.1" stroke="#3a3a3a" stroke-width="1"/>
<line x1="227.1" y1="583.9" x2="227.1" y2="588.3000000000001" stroke="#3a3a3a" stroke-width="1"/>
<line x1="224.9" y1="597.1" x2="229.29999999999998" y2="597.1" stroke="#3a3a3a" stroke-width="1"/>
<line x1="239.9" y1="586.1" x2="244.29999999999998" y2="586.1" stroke="#3a3a3a" stroke-width="1"/>
<line x1="239.9" y1="597.1" x2="244.29999999999998" y2="597.1" stroke="#3a3a3a" stroke-width="1"/>
<line x1="242.1" y1="594.9" x2="242.1" y2="599.3000000000001" stroke="#3a3a3a" stroke-width="1"/>
<line x1="255.3" y1="586.1" x2="259.7" y2="586.1" stroke="#3a3a3a" stroke-width="1"/>
<line x1="255.3" y1="597.1" x2="259.7" y2="597.1" stroke="#3a3a3a" stroke-width="1"/>
<line x1="257.5" y1="594.9" x2="257.5" y2="599.3000000000001" stroke="#3a3a3a" stroke-width="1"/>
<rect x="336.8" y="528.4" width="8.9" height="10.899999999999931" fill="#8aa9c6" stroke="#7898bb" stroke-width="0.6"/>
<rect x="351.3" y="515.0999999999999" width="8.9" height="24.2" fill="#e28a99" stroke="#db7a8c" stroke-width="0.6"/>
<rect x="366.3" y="492.8" width="8.9" height="4.300000000000023" fill="#8aa9c6" stroke="#7898bb" stroke-width="0.6"/>
<rect x="366.3" y="503.8" width="8.9" height="35.49999999999994" fill="#8aa9c6" stroke="#7898bb" stroke-width="0.6"/>
<rect x="381.05" y="477.3" width="8.9" height="19.800000000000022" fill="#e28a99" stroke="#db7a8c" stroke-width="0.6"/>
<rect x="381.05" y="503.8" width="8.9" height="35.49999999999994" fill="#e28a99" stroke="#db7a8c" stroke-width="0.6"/>
<line x1="302.3" y1="458" x2="302.3" y2="497.1" stroke="#161616" stroke-width="1.2"/>
<line x1="302.3" y1="503.8" x2="302.3" y2="539.8" stroke="#161616" stroke-width="1.2"/>
<line x1="300.7" y1="497.1" x2="303.90000000000003" y2="497.1" stroke="#161616" stroke-width="1.1"/>
<line x1="300.7" y1="503.8" x2="303.90000000000003" y2="503.8" stroke="#161616" stroke-width="1.1"/>
<line x1="301.8" y1="539.3" x2="394.8" y2="539.3" stroke="#161616" stroke-width="1.2"/>
<line x1="312.5" y1="539.3" x2="312.5" y2="542.4" stroke="#161616" stroke-width="1.1"/>
<line x1="326.75" y1="539.3" x2="326.75" y2="542.4" stroke="#161616" stroke-width="1.1"/>
<line x1="341.25" y1="539.3" x2="341.25" y2="542.4" stroke="#161616" stroke-width="1.1"/>
<line x1="355.75" y1="539.3" x2="355.75" y2="542.4" stroke="#161616" stroke-width="1.1"/>
<line x1="370.75" y1="539.3" x2="370.75" y2="542.4" stroke="#161616" stroke-width="1.1"/>
<line x1="385.5" y1="539.3" x2="385.5" y2="542.4" stroke="#161616" stroke-width="1.1"/>
<line x1="299.3" y1="462.5" x2="302.3" y2="462.5" stroke="#161616" stroke-width="0.9"/>
<text transform="translate(295.7,465.4) scale(1.0,1)" font-size="8.3" text-anchor="end" fill="#231f20">600</text>
<line x1="299.3" y1="475" x2="302.3" y2="475" stroke="#161616" stroke-width="0.9"/>
<text transform="translate(295.7,477.9) scale(1.0,1)" font-size="8.3" text-anchor="end" fill="#231f20">400</text>
<line x1="299.3" y1="487.5" x2="302.3" y2="487.5" stroke="#161616" stroke-width="0.9"/>
<text transform="translate(295.7,490.4) scale(1.0,1)" font-size="8.3" text-anchor="end" fill="#231f20">200</text>
<line x1="299.3" y1="503.75" x2="302.3" y2="503.75" stroke="#161616" stroke-width="0.9"/>
<text transform="translate(295.7,506.65) scale(1.0,1)" font-size="8.3" text-anchor="end" fill="#231f20">50</text>
<line x1="299.3" y1="510.75" x2="302.3" y2="510.75" stroke="#161616" stroke-width="0.9"/>
<text transform="translate(295.7,513.65) scale(1.0,1)" font-size="8.3" text-anchor="end" fill="#231f20">40</text>
<line x1="299.3" y1="518" x2="302.3" y2="518" stroke="#161616" stroke-width="0.9"/>
<text transform="translate(295.7,520.9) scale(1.0,1)" font-size="8.3" text-anchor="end" fill="#231f20">30</text>
<line x1="299.3" y1="525" x2="302.3" y2="525" stroke="#161616" stroke-width="0.9"/>
<text transform="translate(295.7,527.9) scale(1.0,1)" font-size="8.3" text-anchor="end" fill="#231f20">20</text>
<line x1="299.3" y1="532" x2="302.3" y2="532" stroke="#161616" stroke-width="0.9"/>
<text transform="translate(295.7,534.9) scale(1.0,1)" font-size="8.3" text-anchor="end" fill="#231f20">10</text>
<line x1="299.3" y1="539.25" x2="302.3" y2="539.25" stroke="#161616" stroke-width="0.9"/>
<text transform="translate(295.7,542.15) scale(1.0,1)" font-size="8.3" text-anchor="end" fill="#231f20">0</text>
<line x1="385.5" y1="474.5" x2="385.5" y2="479" stroke="#2a2a2a" stroke-width="1.1"/>
<line x1="383.1" y1="474.5" x2="387.9" y2="474.5" stroke="#2a2a2a" stroke-width="1.1"/>
<line x1="383.1" y1="479" x2="387.9" y2="479" stroke="#2a2a2a" stroke-width="1.1"/>
<line x1="355.75" y1="514" x2="355.75" y2="517" stroke="#2a2a2a" stroke-width="1.1"/>
<line x1="353.35" y1="514" x2="358.15" y2="514" stroke="#2a2a2a" stroke-width="1.1"/>
<line x1="353.35" y1="517" x2="358.15" y2="517" stroke="#2a2a2a" stroke-width="1.1"/>
<line x1="341.25" y1="526" x2="341.25" y2="530" stroke="#2a2a2a" stroke-width="1.1"/>
<line x1="338.85" y1="526" x2="343.65" y2="526" stroke="#2a2a2a" stroke-width="1.1"/>
<line x1="338.85" y1="530" x2="343.65" y2="530" stroke="#2a2a2a" stroke-width="1.1"/>
<circle cx="310" cy="538.5" r="2.0" fill="#0f4a8a"/>
<circle cx="312.8" cy="538.2" r="2.0" fill="#0f4a8a"/>
<circle cx="315.5" cy="539.1" r="2.0" fill="#0f4a8a"/>
<circle cx="323.7" cy="537.3" r="2.0" fill="#c8102e"/>
<circle cx="325.9" cy="536.3" r="2.0" fill="#c8102e"/>
<circle cx="328.3" cy="538.2" r="2.0" fill="#c8102e"/>
<circle cx="330" cy="538.6" r="2.0" fill="#c8102e"/>
<circle cx="341.7" cy="522.6" r="2.0" fill="#0f4a8a"/>
<circle cx="338.4" cy="526.8" r="2.0" fill="#0f4a8a"/>
<circle cx="342" cy="528.1" r="2.0" fill="#0f4a8a"/>
<circle cx="344.8" cy="529" r="2.0" fill="#0f4a8a"/>
<circle cx="338.4" cy="530.9" r="2.0" fill="#0f4a8a"/>
<circle cx="356.1" cy="504.4" r="2.0" fill="#c8102e"/>
<circle cx="353" cy="515.3" r="2.0" fill="#c8102e"/>
<circle cx="355.7" cy="516.2" r="2.0" fill="#c8102e"/>
<circle cx="358.5" cy="515.3" r="2.0" fill="#c8102e"/>
<circle cx="353.9" cy="519" r="2.0" fill="#c8102e"/>
<circle cx="357.5" cy="519.9" r="2.0" fill="#c8102e"/>
<circle cx="355.7" cy="526.3" r="2.0" fill="#c8102e"/>
<circle cx="367.6" cy="488.8" r="2.0" fill="#0f4a8a"/>
<circle cx="373.4" cy="487.9" r="2.0" fill="#0f4a8a"/>
<circle cx="367.2" cy="494" r="2.0" fill="#0f4a8a"/>
<circle cx="371.2" cy="491.6" r="2.0" fill="#0f4a8a"/>
<circle cx="374" cy="491" r="2.0" fill="#0f4a8a"/>
<circle cx="370.5" cy="488.5" r="2.0" fill="#0f4a8a"/>
<circle cx="384.4" cy="469.7" r="2.0" fill="#c8102e"/>
<circle cx="383.1" cy="473.3" r="2.0" fill="#c8102e"/>
<circle cx="387.3" cy="473.9" r="2.0" fill="#c8102e"/>
<circle cx="382.6" cy="477.9" r="2.0" fill="#c8102e"/>
<circle cx="388.6" cy="477.9" r="2.0" fill="#c8102e"/>
<circle cx="384.4" cy="481.5" r="2.0" fill="#c8102e"/>
<circle cx="384.4" cy="483.7" r="2.0" fill="#c8102e"/>
<polyline points="339.3,515.9 339.3,492.9 353.3,492.9 353.3,499.8" fill="none" stroke="#2b2b2b" stroke-width="1.35" stroke-linejoin="round"/>
<polygon points="344.00,485.90 344.56,487.12 345.90,487.28 344.91,488.20 345.18,489.52 344.00,488.86 342.82,489.52 343.09,488.20 342.10,487.28 343.44,487.12" fill="#231f20"/>
<polygon points="348.40,485.90 348.96,487.12 350.30,487.28 349.31,488.20 349.58,489.52 348.40,488.86 347.22,489.52 347.49,488.20 346.50,487.28 347.84,487.12" fill="#231f20"/>
<polyline points="370.3,486.1 370.3,455 385.5,455 385.5,464.7" fill="none" stroke="#2b2b2b" stroke-width="1.35" stroke-linejoin="round"/>
<polygon points="373.80,448.50 374.36,449.72 375.70,449.88 374.71,450.80 374.98,452.12 373.80,451.46 372.62,452.12 372.89,450.80 371.90,449.88 373.24,449.72" fill="#231f20"/>
<polygon points="378.20,448.50 378.76,449.72 380.10,449.88 379.11,450.80 379.38,452.12 378.20,451.46 377.02,452.12 377.29,450.80 376.30,449.88 377.64,449.72" fill="#231f20"/>
<polygon points="382.60,448.50 383.16,449.72 384.50,449.88 383.51,450.80 383.78,452.12 382.60,451.46 381.42,452.12 381.69,450.80 380.70,449.88 382.04,449.72" fill="#231f20"/>
<text transform="translate(343.3,432.5) scale(0.93,1)" font-size="9.9" font-style="italic" text-anchor="middle" fill="#231f20">CCL4</text>
<text transform="translate(317.0,551.0999999999999) rotate(-45) scale(0.93,1)" font-size="9.0" text-anchor="end" fill="#231f20">Ncf2<tspan font-size="6.3" dy="-2.7">fl/fl</tspan></text>
<text transform="translate(331.25,551.0999999999999) rotate(-45) scale(0.93,1)" font-size="9.0" text-anchor="end" fill="#231f20">Ncf2<tspan font-size="6.3" dy="-2.7">LysMcre</tspan></text>
<text transform="translate(345.75,551.0999999999999) rotate(-45) scale(0.93,1)" font-size="9.0" text-anchor="end" fill="#231f20">Ncf2<tspan font-size="6.3" dy="-2.7">fl/fl</tspan></text>
<text transform="translate(360.25,551.0999999999999) rotate(-45) scale(0.93,1)" font-size="9.0" text-anchor="end" fill="#231f20">Ncf2<tspan font-size="6.3" dy="-2.7">LysMcre</tspan></text>
<text transform="translate(375.25,551.0999999999999) rotate(-45) scale(0.93,1)" font-size="9.0" text-anchor="end" fill="#231f20">Ncf2<tspan font-size="6.3" dy="-2.7">fl/fl</tspan></text>
<text transform="translate(390.0,551.0999999999999) rotate(-45) scale(0.93,1)" font-size="9.0" text-anchor="end" fill="#231f20">Ncf2<tspan font-size="6.3" dy="-2.7">LysMcre</tspan></text>
<line x1="306.6" y1="586.1" x2="311.0" y2="586.1" stroke="#3a3a3a" stroke-width="1"/>
<line x1="306.6" y1="597.1" x2="311.0" y2="597.1" stroke="#3a3a3a" stroke-width="1"/>
<line x1="321.6" y1="586.1" x2="326.0" y2="586.1" stroke="#3a3a3a" stroke-width="1"/>
<line x1="321.6" y1="597.1" x2="326.0" y2="597.1" stroke="#3a3a3a" stroke-width="1"/>
<line x1="337.0" y1="586.1" x2="341.4" y2="586.1" stroke="#3a3a3a" stroke-width="1"/>
<line x1="339.2" y1="583.9" x2="339.2" y2="588.3000000000001" stroke="#3a3a3a" stroke-width="1"/>
<line x1="337.0" y1="597.1" x2="341.4" y2="597.1" stroke="#3a3a3a" stroke-width="1"/>
<line x1="352.0" y1="586.1" x2="356.4" y2="586.1" stroke="#3a3a3a" stroke-width="1"/>
<line x1="354.2" y1="583.9" x2="354.2" y2="588.3000000000001" stroke="#3a3a3a" stroke-width="1"/>
<line x1="352.0" y1="597.1" x2="356.4" y2="597.1" stroke="#3a3a3a" stroke-width="1"/>
<line x1="366.8" y1="586.1" x2="371.2" y2="586.1" stroke="#3a3a3a" stroke-width="1"/>
<line x1="366.8" y1="597.1" x2="371.2" y2="597.1" stroke="#3a3a3a" stroke-width="1"/>
<line x1="369" y1="594.9" x2="369" y2="599.3000000000001" stroke="#3a3a3a" stroke-width="1"/>
<line x1="381.6" y1="586.1" x2="386.0" y2="586.1" stroke="#3a3a3a" stroke-width="1"/>
<line x1="381.6" y1="597.1" x2="386.0" y2="597.1" stroke="#3a3a3a" stroke-width="1"/>
<line x1="383.8" y1="594.9" x2="383.8" y2="599.3000000000001" stroke="#3a3a3a" stroke-width="1"/>
</svg>
</body></html>
